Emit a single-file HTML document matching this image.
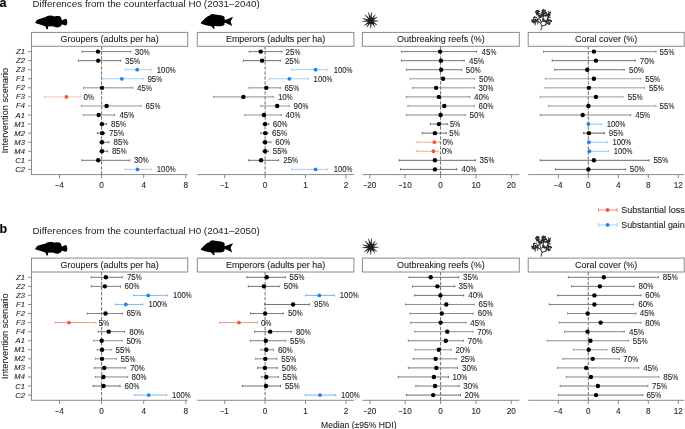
<!DOCTYPE html>
<html><head><meta charset="utf-8"><title>Figure</title>
<style>
html,body{margin:0;padding:0;background:#fff;}
body{width:685px;height:429px;overflow:hidden;}
svg{display:block;font-family:"Liberation Sans", sans-serif;will-change:transform;}
text{stroke:#262626;stroke-width:0.1px;}
.ns{stroke:none;}
</style></head><body>
<svg width="685" height="429" viewBox="0 0 685 429">
<rect width="685" height="429" fill="#fff"/>
<text x="-0.4" y="7.1" font-size="12.6" font-weight="bold" fill="#000" stroke="#000" stroke-width="0.35">a</text>
<text x="32.5" y="7.1" font-size="9.1" fill="#222" class="ns" textLength="227.3" lengthAdjust="spacingAndGlyphs">Differences from the counterfactual H0 (2031–2040)</text>
<g transform="translate(0,0)">
<path d="M34.9,22.5 L36.2,21.8 L36.2,20.5 L38.5,19.2 L41.8,18.2 L45.8,17.1 L46.8,16.2 L49.7,15.6 L52.7,15.8 L54,16.5 L56.3,16 L59.2,16.1 L60.9,17.1 L61.4,19.2 L62.2,20.4 L63.5,19.5 L65.8,18.7 L66.9,19.7 L67.4,22.2 L67,24.6 L65.8,25.5 L63.8,24.9 L61.9,24.2 L61.2,25.8 L59.9,26.8 L57.6,27.5 L55.3,27.3 L54,26.5 L49.7,26.2 L48.2,26.4 L47.9,28.7 L47.2,29.5 L46.1,28.4 L45.6,26.4 L43.1,25.4 L39.2,24.3 L36.6,23.5 L35.3,23 Z" fill="#000"/>
<path d="M200.6,22.9 L202.7,20.8 L205,18.5 L207.3,16.6 L209.7,15.6 L210.4,14.5 L212.9,14 L215,14.4 L218.7,14.9 L222,15.4 L224.1,16.4 L224.8,17.8 L224.3,19.2 L225.7,19.8 L229,18.4 L233.1,16.8 L230.6,21.5 L232.1,26.1 L229,24.5 L225.3,22.8 L224.3,23.4 L224.6,24.5 L223.4,25.5 L220.6,26.2 L217.8,26.2 L215,25.9 L214.1,26.6 L214.6,28.7 L213.6,28.9 L211.5,26.6 L210.6,25.9 L208.3,25.7 L205,25 L201.3,23.8 Z" fill="#000"/>
<path d="M371.15,18.63 L368.79,12.22 L368.21,12.38 L369.41,19.1 Z M371.86,18.88 L371.8,12.32 L371.2,12.28 L370.07,18.73 Z M372.71,19.73 L375.64,14.78 L375.16,14.42 L371.27,18.66 Z M372.98,20.56 L377.55,17.16 L377.25,16.64 L372.06,19.01 Z M372.78,21.75 L378.49,21.3 L378.51,20.7 L372.82,19.95 Z M371.92,22.69 L376.73,25.35 L377.07,24.85 L372.95,21.22 Z M371.17,22.96 L374.65,27.07 L375.15,26.73 L372.66,21.96 Z M369.9,22.8 L370.5,28.5 L371.1,28.5 L371.7,22.8 Z M368.98,22.02 L366.45,27.24 L366.95,27.56 L370.51,22.97 Z M368.65,21.24 L364.22,25.16 L364.58,25.64 L369.7,22.7 Z M368.73,20.07 L362.28,21.2 L362.32,21.8 L368.88,21.86 Z M369.12,19.39 L362.68,18.21 L362.52,18.79 L368.63,21.13 Z M370.07,18.73 L365.12,14.39 L364.68,14.81 L368.77,19.97 Z" fill="#2a2a2a"/>
<circle cx="370.8" cy="20.8" r="2.9" fill="#1e1e1e"/>
<path d="M541,29.9 L541.6,27.5 L542.1,26 L540.7,23.2 L538.5,21.5 L535,20.5 M540.7,23.2 L542.5,20.5 L543.3,16.5 L543.5,12.5 M541,22 L539,16.5 L537.4,13 M542.1,26 L545.8,24.9 L548.5,22 M545.8,24.9 L546.5,21 L548.5,16 L549,13.5 M535.5,21.5 L535.1,25 M538.5,21.5 L537.5,24" stroke="#1e1e1e" stroke-width="0.9" fill="none" stroke-linecap="round"/>
<g fill="#262626"><circle cx="533.74" cy="17.79" r="0.81"/><circle cx="532.23" cy="20.56" r="0.7"/><circle cx="532.15" cy="20.35" r="0.56"/><circle cx="534.4" cy="17.2" r="0.59"/><circle cx="534.35" cy="22.65" r="0.6"/><circle cx="533.14" cy="21.22" r="0.93"/><circle cx="535.26" cy="19.56" r="0.94"/><circle cx="533.54" cy="17.74" r="0.6"/><circle cx="533.65" cy="22.58" r="0.62"/><circle cx="535.29" cy="21.3" r="0.7"/><circle cx="535.09" cy="17.15" r="0.57"/><circle cx="533.04" cy="21.6" r="0.72"/><circle cx="533.68" cy="20.92" r="0.73"/><circle cx="533.6" cy="22.42" r="0.83"/><circle cx="533.26" cy="20.84" r="0.76"/><circle cx="537.05" cy="21.95" r="0.67"/><circle cx="534.31" cy="22.15" r="0.61"/><circle cx="534.73" cy="16.98" r="0.82"/><circle cx="536.39" cy="20.83" r="0.9"/><circle cx="533.68" cy="21.71" r="0.79"/><circle cx="535.28" cy="19.98" r="0.89"/><circle cx="537.47" cy="20.11" r="0.82"/><circle cx="532.16" cy="21.75" r="0.81"/><circle cx="533.51" cy="19.48" r="0.82"/><circle cx="531.94" cy="20.02" r="0.62"/><circle cx="536.41" cy="17.63" r="0.65"/><circle cx="537.03" cy="15.73" r="0.58"/><circle cx="537.34" cy="13.8" r="0.9"/><circle cx="539.26" cy="15.68" r="0.66"/><circle cx="537.16" cy="12.65" r="0.9"/><circle cx="535.92" cy="11.89" r="0.64"/><circle cx="537.52" cy="14.03" r="0.66"/><circle cx="536.92" cy="13.9" r="0.93"/><circle cx="538.59" cy="13.59" r="0.8"/><circle cx="538.52" cy="10.82" r="0.91"/><circle cx="539.06" cy="15.75" r="0.87"/><circle cx="537.04" cy="12.89" r="0.59"/><circle cx="538.3" cy="10.87" r="0.58"/><circle cx="536.09" cy="11.47" r="0.69"/><circle cx="536.89" cy="10.65" r="0.9"/><circle cx="538.19" cy="11.39" r="0.65"/><circle cx="536.81" cy="12.68" r="0.6"/><circle cx="537.42" cy="13.4" r="0.58"/><circle cx="535.53" cy="12.56" r="0.66"/><circle cx="539.31" cy="11.47" r="0.56"/><circle cx="539.95" cy="13.67" r="0.61"/><circle cx="537.82" cy="10.66" r="0.76"/><circle cx="538.62" cy="12.07" r="0.7"/><circle cx="542.17" cy="15.38" r="0.76"/><circle cx="544.98" cy="11.84" r="0.64"/><circle cx="545.32" cy="15.65" r="0.88"/><circle cx="544.8" cy="11.01" r="0.76"/><circle cx="543.04" cy="9.43" r="0.56"/><circle cx="542.69" cy="11.27" r="0.83"/><circle cx="545.8" cy="12.78" r="0.92"/><circle cx="543.08" cy="10.96" r="0.64"/><circle cx="542.3" cy="10.83" r="0.8"/><circle cx="543.61" cy="14.42" r="0.87"/><circle cx="541.79" cy="14.48" r="0.91"/><circle cx="545" cy="15.2" r="0.74"/><circle cx="542.22" cy="15.51" r="0.68"/><circle cx="543.22" cy="12.41" r="0.93"/><circle cx="544.73" cy="10.56" r="0.6"/><circle cx="545.11" cy="10.37" r="0.88"/><circle cx="543.01" cy="13.59" r="0.6"/><circle cx="544.39" cy="13.41" r="0.92"/><circle cx="543.4" cy="16.17" r="0.88"/><circle cx="542.37" cy="11.21" r="0.67"/><circle cx="542.51" cy="13.89" r="0.65"/><circle cx="543.33" cy="10.25" r="0.91"/><circle cx="543.03" cy="12.87" r="0.78"/><circle cx="545.56" cy="12.57" r="0.92"/><circle cx="543.71" cy="13.45" r="0.76"/><circle cx="541.49" cy="12.72" r="0.62"/><circle cx="546.96" cy="14.42" r="0.84"/><circle cx="548.88" cy="13.42" r="0.76"/><circle cx="548.88" cy="16.53" r="0.59"/><circle cx="548.9" cy="12.89" r="0.66"/><circle cx="549.96" cy="14.65" r="0.77"/><circle cx="549.9" cy="17.4" r="0.73"/><circle cx="549.16" cy="14.64" r="0.75"/><circle cx="549.56" cy="14.28" r="0.76"/><circle cx="548.49" cy="17.6" r="0.83"/><circle cx="547.4" cy="15" r="0.93"/><circle cx="550.3" cy="12.13" r="0.6"/><circle cx="548.31" cy="11.69" r="0.65"/><circle cx="546.47" cy="15.75" r="0.86"/><circle cx="549.68" cy="15.69" r="0.61"/><circle cx="548.09" cy="14.51" r="0.95"/><circle cx="550.26" cy="12.3" r="0.72"/><circle cx="548.68" cy="13.51" r="0.63"/><circle cx="547.69" cy="16.11" r="0.56"/><circle cx="548.87" cy="14.2" r="0.56"/><circle cx="547.76" cy="15.44" r="0.75"/><circle cx="546.62" cy="13.01" r="0.57"/><circle cx="549.99" cy="13.04" r="0.6"/><circle cx="548.9" cy="23.97" r="0.88"/><circle cx="548.04" cy="19.4" r="0.92"/><circle cx="549.67" cy="22.7" r="0.59"/><circle cx="547" cy="22.63" r="0.72"/><circle cx="550" cy="23.31" r="0.58"/><circle cx="551.19" cy="21.22" r="0.69"/><circle cx="549.58" cy="24.06" r="0.66"/><circle cx="547.37" cy="21.66" r="0.65"/><circle cx="548.32" cy="20.33" r="0.85"/><circle cx="548.21" cy="21.5" r="0.62"/><circle cx="550.51" cy="21.81" r="0.63"/><circle cx="549.17" cy="24.11" r="0.59"/><circle cx="550.96" cy="21.09" r="0.75"/><circle cx="551.04" cy="20.86" r="0.75"/><circle cx="548.48" cy="23.49" r="0.83"/><circle cx="550.01" cy="20.93" r="0.69"/><circle cx="547.07" cy="22.95" r="0.65"/><circle cx="550.19" cy="20.19" r="0.65"/><circle cx="548.22" cy="21.26" r="0.61"/><circle cx="549.02" cy="20.08" r="0.93"/><circle cx="546.1" cy="20.57" r="0.65"/><circle cx="543.97" cy="20.31" r="0.75"/><circle cx="543.32" cy="20.42" r="0.55"/><circle cx="543.55" cy="18.92" r="0.71"/><circle cx="543.7" cy="19.44" r="0.78"/><circle cx="544.51" cy="21.3" r="0.81"/><circle cx="545.18" cy="21.76" r="0.71"/><circle cx="543.14" cy="21.21" r="0.81"/><circle cx="545.81" cy="20.86" r="0.84"/><circle cx="541.24" cy="15.29" r="0.76"/><circle cx="540.31" cy="17.24" r="0.87"/><circle cx="541.28" cy="16.54" r="0.91"/><circle cx="540.85" cy="16.84" r="0.64"/><circle cx="539.88" cy="15.19" r="0.88"/><circle cx="540.48" cy="16.66" r="0.8"/><circle cx="540.84" cy="16.27" r="0.55"/><circle cx="538.2" cy="19.45" r="0.75"/><circle cx="537.67" cy="19.21" r="0.58"/><circle cx="538.07" cy="18.16" r="0.58"/><circle cx="537.13" cy="19.4" r="0.63"/></g>
</g>
<rect x="31.5" y="32.4" width="156.2" height="13.9" fill="none" stroke="#8a8a8a" stroke-width="1"/>
<text x="109.6" y="41.8" font-size="8.9" fill="#262626" text-anchor="middle" textLength="98.2" lengthAdjust="spacingAndGlyphs">Groupers (adults per ha)</text>
<line x1="31.5" y1="174.6" x2="187.7" y2="174.6" stroke="#8a8a8a" stroke-width="1"/>
<line x1="31.5" y1="46.3" x2="31.5" y2="175.1" stroke="#8a8a8a" stroke-width="1"/>
<line x1="28" y1="51.6" x2="31.5" y2="51.6" stroke="#8a8a8a" stroke-width="1"/>
<text x="24.9" y="54.1" font-size="7.6" font-style="italic" fill="#262626" text-anchor="end">Z1</text>
<line x1="28" y1="60.66" x2="31.5" y2="60.66" stroke="#8a8a8a" stroke-width="1"/>
<text x="24.9" y="63.16" font-size="7.6" font-style="italic" fill="#262626" text-anchor="end">Z2</text>
<line x1="28" y1="69.72" x2="31.5" y2="69.72" stroke="#8a8a8a" stroke-width="1"/>
<text x="24.9" y="72.22" font-size="7.6" font-style="italic" fill="#262626" text-anchor="end">Z3</text>
<line x1="28" y1="78.78" x2="31.5" y2="78.78" stroke="#8a8a8a" stroke-width="1"/>
<text x="24.9" y="81.28" font-size="7.6" font-style="italic" fill="#262626" text-anchor="end">F1</text>
<line x1="28" y1="87.84" x2="31.5" y2="87.84" stroke="#8a8a8a" stroke-width="1"/>
<text x="24.9" y="90.34" font-size="7.6" font-style="italic" fill="#262626" text-anchor="end">F2</text>
<line x1="28" y1="96.9" x2="31.5" y2="96.9" stroke="#8a8a8a" stroke-width="1"/>
<text x="24.9" y="99.4" font-size="7.6" font-style="italic" fill="#262626" text-anchor="end">F3</text>
<line x1="28" y1="105.96" x2="31.5" y2="105.96" stroke="#8a8a8a" stroke-width="1"/>
<text x="24.9" y="108.46" font-size="7.6" font-style="italic" fill="#262626" text-anchor="end">F4</text>
<line x1="28" y1="115.02" x2="31.5" y2="115.02" stroke="#8a8a8a" stroke-width="1"/>
<text x="24.9" y="117.52" font-size="7.6" font-style="italic" fill="#262626" text-anchor="end">A1</text>
<line x1="28" y1="124.08" x2="31.5" y2="124.08" stroke="#8a8a8a" stroke-width="1"/>
<text x="24.9" y="126.58" font-size="7.6" font-style="italic" fill="#262626" text-anchor="end">M1</text>
<line x1="28" y1="133.14" x2="31.5" y2="133.14" stroke="#8a8a8a" stroke-width="1"/>
<text x="24.9" y="135.64" font-size="7.6" font-style="italic" fill="#262626" text-anchor="end">M2</text>
<line x1="28" y1="142.2" x2="31.5" y2="142.2" stroke="#8a8a8a" stroke-width="1"/>
<text x="24.9" y="144.7" font-size="7.6" font-style="italic" fill="#262626" text-anchor="end">M3</text>
<line x1="28" y1="151.26" x2="31.5" y2="151.26" stroke="#8a8a8a" stroke-width="1"/>
<text x="24.9" y="153.76" font-size="7.6" font-style="italic" fill="#262626" text-anchor="end">M4</text>
<line x1="28" y1="160.32" x2="31.5" y2="160.32" stroke="#8a8a8a" stroke-width="1"/>
<text x="24.9" y="162.82" font-size="7.6" font-style="italic" fill="#262626" text-anchor="end">C1</text>
<line x1="28" y1="169.38" x2="31.5" y2="169.38" stroke="#8a8a8a" stroke-width="1"/>
<text x="24.9" y="171.88" font-size="7.6" font-style="italic" fill="#262626" text-anchor="end">C2</text>
<line x1="59.5" y1="174.6" x2="59.5" y2="178.3" stroke="#8a8a8a" stroke-width="1"/>
<text x="59.5" y="187.8" font-size="8.2" fill="#262626" text-anchor="middle"><tspan textLength="3.9" lengthAdjust="spacingAndGlyphs">−</tspan>4</text>
<line x1="101.6" y1="174.6" x2="101.6" y2="178.3" stroke="#8a8a8a" stroke-width="1"/>
<text x="101.6" y="187.8" font-size="8.2" fill="#262626" text-anchor="middle">0</text>
<line x1="143.7" y1="174.6" x2="143.7" y2="178.3" stroke="#8a8a8a" stroke-width="1"/>
<text x="143.7" y="187.8" font-size="8.2" fill="#262626" text-anchor="middle">4</text>
<line x1="185.8" y1="174.6" x2="185.8" y2="178.3" stroke="#8a8a8a" stroke-width="1"/>
<text x="185.8" y="187.8" font-size="8.2" fill="#262626" text-anchor="middle">8</text>
<line x1="101.6" y1="46.3" x2="101.6" y2="174.6" stroke="#6e6e6e" stroke-width="1" stroke-dasharray="3.4 1.6"/>
<path d="M81.9,51.6H130.9M81.9,50.5V52.7M130.9,50.5V52.7" stroke="#7b7b7b" stroke-width="1.0" fill="none"/>
<circle cx="98" cy="51.6" r="2.2" fill="#000"/>
<text x="134.8" y="54.55" font-size="8.3" fill="#262626"><tspan textLength="8.9" lengthAdjust="spacingAndGlyphs">30</tspan><tspan textLength="5.9" lengthAdjust="spacingAndGlyphs">%</tspan></text>
<path d="M78.4,60.66H120.7M78.4,59.56V61.76M120.7,59.56V61.76" stroke="#737373" stroke-width="1.0" fill="none"/>
<circle cx="98.2" cy="60.66" r="2.2" fill="#000"/>
<text x="125" y="63.61" font-size="8.3" fill="#262626"><tspan textLength="8.9" lengthAdjust="spacingAndGlyphs">35</tspan><tspan textLength="5.9" lengthAdjust="spacingAndGlyphs">%</tspan></text>
<path d="M125.3,69.72H151.7M125.3,68.62V70.82M151.7,68.62V70.82" stroke="#a6cff6" stroke-width="1.0" fill="none"/>
<circle cx="137.2" cy="69.72" r="1.9" fill="#1f82ea"/>
<text x="156.8" y="72.67" font-size="8.3" fill="#262626"><tspan textLength="12.9" lengthAdjust="spacingAndGlyphs">100</tspan><tspan textLength="5.9" lengthAdjust="spacingAndGlyphs">%</tspan></text>
<path d="M103.1,78.78H143.8M103.1,77.68V79.88M143.8,77.68V79.88" stroke="#a6cff6" stroke-width="1.0" fill="none"/>
<circle cx="121.8" cy="78.78" r="1.9" fill="#1f82ea"/>
<text x="147.4" y="81.73" font-size="8.3" fill="#262626"><tspan textLength="8.9" lengthAdjust="spacingAndGlyphs">95</tspan><tspan textLength="5.9" lengthAdjust="spacingAndGlyphs">%</tspan></text>
<path d="M83.7,87.84H132.8M83.7,86.74V88.94M132.8,86.74V88.94" stroke="#8c8c8c" stroke-width="1.0" fill="none"/>
<circle cx="102" cy="87.84" r="2.2" fill="#000"/>
<text x="137.1" y="90.79" font-size="8.3" fill="#262626"><tspan textLength="8.9" lengthAdjust="spacingAndGlyphs">45</tspan><tspan textLength="5.9" lengthAdjust="spacingAndGlyphs">%</tspan></text>
<path d="M44.5,96.9H80.2M44.5,95.8V98M80.2,95.8V98" stroke="#fac3b6" stroke-width="1.0" fill="none"/>
<circle cx="66.4" cy="96.9" r="1.9" fill="#f2553b"/>
<text x="83.6" y="99.85" font-size="8.3" fill="#262626"><tspan textLength="4.45" lengthAdjust="spacingAndGlyphs">0</tspan><tspan textLength="5.9" lengthAdjust="spacingAndGlyphs">%</tspan></text>
<path d="M81.4,105.96H141M81.4,104.86V107.06M141,104.86V107.06" stroke="#939393" stroke-width="1.0" fill="none"/>
<circle cx="106.6" cy="105.96" r="2.2" fill="#000"/>
<text x="145.6" y="108.91" font-size="8.3" fill="#262626"><tspan textLength="8.9" lengthAdjust="spacingAndGlyphs">65</tspan><tspan textLength="5.9" lengthAdjust="spacingAndGlyphs">%</tspan></text>
<path d="M83.3,115.02H114.6M83.3,113.92V116.12M114.6,113.92V116.12" stroke="#8c8c8c" stroke-width="1.0" fill="none"/>
<circle cx="98.7" cy="115.02" r="2.2" fill="#000"/>
<text x="119.4" y="117.97" font-size="8.3" fill="#262626"><tspan textLength="8.9" lengthAdjust="spacingAndGlyphs">45</tspan><tspan textLength="5.9" lengthAdjust="spacingAndGlyphs">%</tspan></text>
<path d="M100.1,124.08H106.4M100.1,122.98V125.18M106.4,122.98V125.18" stroke="#6d6d6d" stroke-width="1.0" fill="none"/>
<circle cx="102" cy="124.08" r="2.2" fill="#000"/>
<text x="111" y="127.03" font-size="8.3" fill="#262626"><tspan textLength="8.9" lengthAdjust="spacingAndGlyphs">85</tspan><tspan textLength="5.9" lengthAdjust="spacingAndGlyphs">%</tspan></text>
<path d="M97.3,133.14H104.8M97.3,132.04V134.24M104.8,132.04V134.24" stroke="#6d6d6d" stroke-width="1.0" fill="none"/>
<circle cx="102.2" cy="133.14" r="2.2" fill="#000"/>
<text x="109.1" y="136.09" font-size="8.3" fill="#262626"><tspan textLength="8.9" lengthAdjust="spacingAndGlyphs">75</tspan><tspan textLength="5.9" lengthAdjust="spacingAndGlyphs">%</tspan></text>
<path d="M100,142.2H109M100,141.1V143.3M109,141.1V143.3" stroke="#757575" stroke-width="1.0" fill="none"/>
<circle cx="102" cy="142.2" r="2.2" fill="#000"/>
<text x="113.5" y="145.15" font-size="8.3" fill="#262626"><tspan textLength="8.9" lengthAdjust="spacingAndGlyphs">85</tspan><tspan textLength="5.9" lengthAdjust="spacingAndGlyphs">%</tspan></text>
<path d="M100,151.26H107.6M100,150.16V152.36M107.6,150.16V152.36" stroke="#757575" stroke-width="1.0" fill="none"/>
<circle cx="102" cy="151.26" r="2.2" fill="#000"/>
<text x="111.9" y="154.21" font-size="8.3" fill="#262626"><tspan textLength="8.9" lengthAdjust="spacingAndGlyphs">85</tspan><tspan textLength="5.9" lengthAdjust="spacingAndGlyphs">%</tspan></text>
<path d="M81.9,160.32H129.8M81.9,159.22V161.42M129.8,159.22V161.42" stroke="#737373" stroke-width="1.0" fill="none"/>
<circle cx="98.2" cy="160.32" r="2.2" fill="#000"/>
<text x="133.9" y="163.27" font-size="8.3" fill="#262626"><tspan textLength="8.9" lengthAdjust="spacingAndGlyphs">30</tspan><tspan textLength="5.9" lengthAdjust="spacingAndGlyphs">%</tspan></text>
<path d="M125.3,169.38H151.7M125.3,168.28V170.48M151.7,168.28V170.48" stroke="#a6cff6" stroke-width="1.0" fill="none"/>
<circle cx="137.5" cy="169.38" r="1.9" fill="#1f82ea"/>
<text x="156.8" y="172.33" font-size="8.3" fill="#262626"><tspan textLength="12.9" lengthAdjust="spacingAndGlyphs">100</tspan><tspan textLength="5.9" lengthAdjust="spacingAndGlyphs">%</tspan></text>
<rect x="197.3" y="32.4" width="156.6" height="13.9" fill="none" stroke="#8a8a8a" stroke-width="1"/>
<text x="275.6" y="41.8" font-size="8.9" fill="#262626" text-anchor="middle" textLength="99.4" lengthAdjust="spacingAndGlyphs">Emperors (adults per ha)</text>
<line x1="197.3" y1="174.6" x2="353.9" y2="174.6" stroke="#8a8a8a" stroke-width="1"/>
<line x1="224.7" y1="174.6" x2="224.7" y2="178.3" stroke="#8a8a8a" stroke-width="1"/>
<text x="224.7" y="187.8" font-size="8.2" fill="#262626" text-anchor="middle"><tspan textLength="3.9" lengthAdjust="spacingAndGlyphs">−</tspan>1</text>
<line x1="265.1" y1="174.6" x2="265.1" y2="178.3" stroke="#8a8a8a" stroke-width="1"/>
<text x="265.1" y="187.8" font-size="8.2" fill="#262626" text-anchor="middle">0</text>
<line x1="305.5" y1="174.6" x2="305.5" y2="178.3" stroke="#8a8a8a" stroke-width="1"/>
<text x="305.5" y="187.8" font-size="8.2" fill="#262626" text-anchor="middle">1</text>
<line x1="346" y1="174.6" x2="346" y2="178.3" stroke="#8a8a8a" stroke-width="1"/>
<text x="346" y="187.8" font-size="8.2" fill="#262626" text-anchor="middle">2</text>
<line x1="265.1" y1="46.3" x2="265.1" y2="174.6" stroke="#6e6e6e" stroke-width="1" stroke-dasharray="3.4 1.6"/>
<path d="M249.2,51.6H281.9M249.2,50.5V52.7M281.9,50.5V52.7" stroke="#7b7b7b" stroke-width="1.0" fill="none"/>
<circle cx="260.7" cy="51.6" r="2.2" fill="#000"/>
<text x="285.6" y="54.55" font-size="8.3" fill="#262626"><tspan textLength="8.9" lengthAdjust="spacingAndGlyphs">25</tspan><tspan textLength="5.9" lengthAdjust="spacingAndGlyphs">%</tspan></text>
<path d="M243.4,60.66H280.3M243.4,59.56V61.76M280.3,59.56V61.76" stroke="#6b6b6b" stroke-width="1.0" fill="none"/>
<circle cx="262.1" cy="60.66" r="2.2" fill="#000"/>
<text x="284.9" y="63.61" font-size="8.3" fill="#262626"><tspan textLength="8.9" lengthAdjust="spacingAndGlyphs">25</tspan><tspan textLength="5.9" lengthAdjust="spacingAndGlyphs">%</tspan></text>
<path d="M291.5,69.72H327.7M291.5,68.62V70.82M327.7,68.62V70.82" stroke="#a6cff6" stroke-width="1.0" fill="none"/>
<circle cx="315.6" cy="69.72" r="1.9" fill="#1f82ea"/>
<text x="333.7" y="72.67" font-size="8.3" fill="#262626"><tspan textLength="12.9" lengthAdjust="spacingAndGlyphs">100</tspan><tspan textLength="5.9" lengthAdjust="spacingAndGlyphs">%</tspan></text>
<path d="M269.3,78.78H308.3M269.3,77.68V79.88M308.3,77.68V79.88" stroke="#a6cff6" stroke-width="1.0" fill="none"/>
<circle cx="289.4" cy="78.78" r="1.9" fill="#1f82ea"/>
<text x="313.6" y="81.73" font-size="8.3" fill="#262626"><tspan textLength="12.9" lengthAdjust="spacingAndGlyphs">100</tspan><tspan textLength="5.9" lengthAdjust="spacingAndGlyphs">%</tspan></text>
<path d="M249.2,87.84H280.3M249.2,86.74V88.94M280.3,86.74V88.94" stroke="#8c8c8c" stroke-width="1.0" fill="none"/>
<circle cx="266.3" cy="87.84" r="2.2" fill="#000"/>
<text x="284.4" y="90.79" font-size="8.3" fill="#262626"><tspan textLength="8.9" lengthAdjust="spacingAndGlyphs">65</tspan><tspan textLength="5.9" lengthAdjust="spacingAndGlyphs">%</tspan></text>
<path d="M213.7,96.9H273.3M213.7,95.8V98M273.3,95.8V98" stroke="#8c8c8c" stroke-width="1.0" fill="none"/>
<circle cx="243.4" cy="96.9" r="2.2" fill="#000"/>
<text x="277.9" y="99.85" font-size="8.3" fill="#262626"><tspan textLength="8.9" lengthAdjust="spacingAndGlyphs">10</tspan><tspan textLength="5.9" lengthAdjust="spacingAndGlyphs">%</tspan></text>
<path d="M260.9,105.96H289.2M260.9,104.86V107.06M289.2,104.86V107.06" stroke="#969696" stroke-width="1.0" fill="none"/>
<circle cx="277.2" cy="105.96" r="2.2" fill="#000"/>
<text x="293.5" y="108.91" font-size="8.3" fill="#262626"><tspan textLength="8.9" lengthAdjust="spacingAndGlyphs">90</tspan><tspan textLength="5.9" lengthAdjust="spacingAndGlyphs">%</tspan></text>
<path d="M244.8,115.02H281.4M244.8,113.92V116.12M281.4,113.92V116.12" stroke="#939393" stroke-width="1.0" fill="none"/>
<circle cx="263.9" cy="115.02" r="2.2" fill="#000"/>
<text x="285.6" y="117.97" font-size="8.3" fill="#262626"><tspan textLength="8.9" lengthAdjust="spacingAndGlyphs">40</tspan><tspan textLength="5.9" lengthAdjust="spacingAndGlyphs">%</tspan></text>
<path d="M263,124.08H268.8M263,122.98V125.18M268.8,122.98V125.18" stroke="#6d6d6d" stroke-width="1.0" fill="none"/>
<circle cx="265.1" cy="124.08" r="2.2" fill="#000"/>
<text x="272.7" y="127.03" font-size="8.3" fill="#262626"><tspan textLength="8.9" lengthAdjust="spacingAndGlyphs">60</tspan><tspan textLength="5.9" lengthAdjust="spacingAndGlyphs">%</tspan></text>
<path d="M260.9,133.14H267.7M260.9,132.04V134.24M267.7,132.04V134.24" stroke="#6d6d6d" stroke-width="1.0" fill="none"/>
<circle cx="265.3" cy="133.14" r="2.2" fill="#000"/>
<text x="272" y="136.09" font-size="8.3" fill="#262626"><tspan textLength="8.9" lengthAdjust="spacingAndGlyphs">65</tspan><tspan textLength="5.9" lengthAdjust="spacingAndGlyphs">%</tspan></text>
<path d="M263,142.2H270.9M263,141.1V143.3M270.9,141.1V143.3" stroke="#757575" stroke-width="1.0" fill="none"/>
<circle cx="265.1" cy="142.2" r="2.2" fill="#000"/>
<text x="275.3" y="145.15" font-size="8.3" fill="#262626"><tspan textLength="8.9" lengthAdjust="spacingAndGlyphs">60</tspan><tspan textLength="5.9" lengthAdjust="spacingAndGlyphs">%</tspan></text>
<path d="M263,151.26H268.6M263,150.16V152.36M268.6,150.16V152.36" stroke="#757575" stroke-width="1.0" fill="none"/>
<circle cx="265.1" cy="151.26" r="2.2" fill="#000"/>
<text x="272.7" y="154.21" font-size="8.3" fill="#262626"><tspan textLength="8.9" lengthAdjust="spacingAndGlyphs">55</tspan><tspan textLength="5.9" lengthAdjust="spacingAndGlyphs">%</tspan></text>
<path d="M248.7,160.32H278.6M248.7,159.22V161.42M278.6,159.22V161.42" stroke="#737373" stroke-width="1.0" fill="none"/>
<circle cx="261.1" cy="160.32" r="2.2" fill="#000"/>
<text x="283.2" y="163.27" font-size="8.3" fill="#262626"><tspan textLength="8.9" lengthAdjust="spacingAndGlyphs">25</tspan><tspan textLength="5.9" lengthAdjust="spacingAndGlyphs">%</tspan></text>
<path d="M291.5,169.38H327.7M291.5,168.28V170.48M327.7,168.28V170.48" stroke="#a6cff6" stroke-width="1.0" fill="none"/>
<circle cx="315.6" cy="169.38" r="1.9" fill="#1f82ea"/>
<text x="333.7" y="172.33" font-size="8.3" fill="#262626"><tspan textLength="12.9" lengthAdjust="spacingAndGlyphs">100</tspan><tspan textLength="5.9" lengthAdjust="spacingAndGlyphs">%</tspan></text>
<rect x="362.4" y="32.4" width="156.9" height="13.9" fill="none" stroke="#8a8a8a" stroke-width="1"/>
<text x="440.85" y="41.8" font-size="8.9" fill="#262626" text-anchor="middle" textLength="87.6" lengthAdjust="spacingAndGlyphs">Outbreaking reefs (%)</text>
<line x1="362.4" y1="174.6" x2="519.3" y2="174.6" stroke="#8a8a8a" stroke-width="1"/>
<line x1="369.9" y1="174.6" x2="369.9" y2="178.3" stroke="#8a8a8a" stroke-width="1"/>
<text x="369.9" y="187.8" font-size="8.2" fill="#262626" text-anchor="middle"><tspan textLength="3.9" lengthAdjust="spacingAndGlyphs">−</tspan>20</text>
<line x1="405.2" y1="174.6" x2="405.2" y2="178.3" stroke="#8a8a8a" stroke-width="1"/>
<text x="405.2" y="187.8" font-size="8.2" fill="#262626" text-anchor="middle"><tspan textLength="3.9" lengthAdjust="spacingAndGlyphs">−</tspan>10</text>
<line x1="440.6" y1="174.6" x2="440.6" y2="178.3" stroke="#8a8a8a" stroke-width="1"/>
<text x="440.6" y="187.8" font-size="8.2" fill="#262626" text-anchor="middle">0</text>
<line x1="476" y1="174.6" x2="476" y2="178.3" stroke="#8a8a8a" stroke-width="1"/>
<text x="476" y="187.8" font-size="8.2" fill="#262626" text-anchor="middle">10</text>
<line x1="511.3" y1="174.6" x2="511.3" y2="178.3" stroke="#8a8a8a" stroke-width="1"/>
<text x="511.3" y="187.8" font-size="8.2" fill="#262626" text-anchor="middle">20</text>
<line x1="440.6" y1="46.3" x2="440.6" y2="174.6" stroke="#6e6e6e" stroke-width="1" stroke-dasharray="3.4 1.6"/>
<path d="M401.6,51.6H476.6M401.6,50.5V52.7M476.6,50.5V52.7" stroke="#7b7b7b" stroke-width="1.0" fill="none"/>
<circle cx="440.1" cy="51.6" r="2.2" fill="#000"/>
<text x="481.5" y="54.55" font-size="8.3" fill="#262626"><tspan textLength="8.9" lengthAdjust="spacingAndGlyphs">45</tspan><tspan textLength="5.9" lengthAdjust="spacingAndGlyphs">%</tspan></text>
<path d="M401.4,60.66H464.2M401.4,59.56V61.76M464.2,59.56V61.76" stroke="#737373" stroke-width="1.0" fill="none"/>
<circle cx="440.9" cy="60.66" r="2.2" fill="#000"/>
<text x="469" y="63.61" font-size="8.3" fill="#262626"><tspan textLength="8.9" lengthAdjust="spacingAndGlyphs">45</tspan><tspan textLength="5.9" lengthAdjust="spacingAndGlyphs">%</tspan></text>
<path d="M406.4,69.72H461.7M406.4,68.62V70.82M461.7,68.62V70.82" stroke="#757575" stroke-width="1.0" fill="none"/>
<circle cx="441.1" cy="69.72" r="2.2" fill="#000"/>
<text x="465.8" y="72.67" font-size="8.3" fill="#262626"><tspan textLength="8.9" lengthAdjust="spacingAndGlyphs">50</tspan><tspan textLength="5.9" lengthAdjust="spacingAndGlyphs">%</tspan></text>
<path d="M410.1,78.78H474.6M410.1,77.68V79.88M474.6,77.68V79.88" stroke="#9c9c9c" stroke-width="1.0" fill="none"/>
<circle cx="443.1" cy="78.78" r="2.2" fill="#000"/>
<text x="479" y="81.73" font-size="8.3" fill="#262626"><tspan textLength="8.9" lengthAdjust="spacingAndGlyphs">50</tspan><tspan textLength="5.9" lengthAdjust="spacingAndGlyphs">%</tspan></text>
<path d="M412.6,87.84H474.4M412.6,86.74V88.94M474.4,86.74V88.94" stroke="#939393" stroke-width="1.0" fill="none"/>
<circle cx="436.1" cy="87.84" r="2.2" fill="#000"/>
<text x="478.5" y="90.79" font-size="8.3" fill="#262626"><tspan textLength="8.9" lengthAdjust="spacingAndGlyphs">30</tspan><tspan textLength="5.9" lengthAdjust="spacingAndGlyphs">%</tspan></text>
<path d="M406.4,96.9H469.6M406.4,95.8V98M469.6,95.8V98" stroke="#8c8c8c" stroke-width="1.0" fill="none"/>
<circle cx="438.9" cy="96.9" r="2.2" fill="#000"/>
<text x="474" y="99.85" font-size="8.3" fill="#262626"><tspan textLength="8.9" lengthAdjust="spacingAndGlyphs">40</tspan><tspan textLength="5.9" lengthAdjust="spacingAndGlyphs">%</tspan></text>
<path d="M407.9,105.96H474.1M407.9,104.86V107.06M474.1,104.86V107.06" stroke="#939393" stroke-width="1.0" fill="none"/>
<circle cx="444.3" cy="105.96" r="2.2" fill="#000"/>
<text x="478.5" y="108.91" font-size="8.3" fill="#262626"><tspan textLength="8.9" lengthAdjust="spacingAndGlyphs">60</tspan><tspan textLength="5.9" lengthAdjust="spacingAndGlyphs">%</tspan></text>
<path d="M406.4,115.02H465.4M406.4,113.92V116.12M465.4,113.92V116.12" stroke="#8c8c8c" stroke-width="1.0" fill="none"/>
<circle cx="440.6" cy="115.02" r="2.2" fill="#000"/>
<text x="469.5" y="117.97" font-size="8.3" fill="#262626"><tspan textLength="8.9" lengthAdjust="spacingAndGlyphs">50</tspan><tspan textLength="5.9" lengthAdjust="spacingAndGlyphs">%</tspan></text>
<path d="M430.4,124.08H447.3M430.4,122.98V125.18M447.3,122.98V125.18" stroke="#757575" stroke-width="1.0" fill="none"/>
<circle cx="438.9" cy="124.08" r="2.2" fill="#000"/>
<text x="449.9" y="127.03" font-size="8.3" fill="#262626"><tspan textLength="4.45" lengthAdjust="spacingAndGlyphs">5</tspan><tspan textLength="5.9" lengthAdjust="spacingAndGlyphs">%</tspan></text>
<path d="M422.2,133.14H446.3M422.2,132.04V134.24M446.3,132.04V134.24" stroke="#6d6d6d" stroke-width="1.0" fill="none"/>
<circle cx="434.9" cy="133.14" r="2.2" fill="#000"/>
<text x="449.2" y="136.09" font-size="8.3" fill="#262626"><tspan textLength="4.45" lengthAdjust="spacingAndGlyphs">5</tspan><tspan textLength="5.9" lengthAdjust="spacingAndGlyphs">%</tspan></text>
<path d="M417,142.2H439.4M417,141.1V143.3M439.4,141.1V143.3" stroke="#f6a898" stroke-width="1.0" fill="none"/>
<circle cx="434.4" cy="142.2" r="1.9" fill="#f2553b"/>
<text x="442.5" y="145.15" font-size="8.3" fill="#262626"><tspan textLength="4.45" lengthAdjust="spacingAndGlyphs">0</tspan><tspan textLength="5.9" lengthAdjust="spacingAndGlyphs">%</tspan></text>
<path d="M416.3,151.26H438.1M416.3,150.16V152.36M438.1,150.16V152.36" stroke="#f6a898" stroke-width="1.0" fill="none"/>
<circle cx="433.4" cy="151.26" r="1.9" fill="#f2553b"/>
<text x="441.7" y="154.21" font-size="8.3" fill="#262626"><tspan textLength="4.45" lengthAdjust="spacingAndGlyphs">0</tspan><tspan textLength="5.9" lengthAdjust="spacingAndGlyphs">%</tspan></text>
<path d="M399.2,160.32H475.3M399.2,159.22V161.42M475.3,159.22V161.42" stroke="#6b6b6b" stroke-width="1.0" fill="none"/>
<circle cx="434.9" cy="160.32" r="2.2" fill="#000"/>
<text x="479.5" y="163.27" font-size="8.3" fill="#262626"><tspan textLength="8.9" lengthAdjust="spacingAndGlyphs">35</tspan><tspan textLength="5.9" lengthAdjust="spacingAndGlyphs">%</tspan></text>
<path d="M400.4,169.38H456.7M400.4,168.28V170.48M456.7,168.28V170.48" stroke="#6b6b6b" stroke-width="1.0" fill="none"/>
<circle cx="434.9" cy="169.38" r="2.2" fill="#000"/>
<text x="461.6" y="172.33" font-size="8.3" fill="#262626"><tspan textLength="8.9" lengthAdjust="spacingAndGlyphs">40</tspan><tspan textLength="5.9" lengthAdjust="spacingAndGlyphs">%</tspan></text>
<rect x="528.2" y="32.4" width="156" height="13.9" fill="none" stroke="#8a8a8a" stroke-width="1"/>
<text x="606.2" y="41.8" font-size="8.9" fill="#262626" text-anchor="middle" textLength="62.3" lengthAdjust="spacingAndGlyphs">Coral cover (%)</text>
<line x1="528.2" y1="174.6" x2="684.2" y2="174.6" stroke="#8a8a8a" stroke-width="1"/>
<line x1="558.3" y1="174.6" x2="558.3" y2="178.3" stroke="#8a8a8a" stroke-width="1"/>
<text x="558.3" y="187.8" font-size="8.2" fill="#262626" text-anchor="middle"><tspan textLength="3.9" lengthAdjust="spacingAndGlyphs">−</tspan>4</text>
<line x1="588.3" y1="174.6" x2="588.3" y2="178.3" stroke="#8a8a8a" stroke-width="1"/>
<text x="588.3" y="187.8" font-size="8.2" fill="#262626" text-anchor="middle">0</text>
<line x1="618.3" y1="174.6" x2="618.3" y2="178.3" stroke="#8a8a8a" stroke-width="1"/>
<text x="618.3" y="187.8" font-size="8.2" fill="#262626" text-anchor="middle">4</text>
<line x1="648.3" y1="174.6" x2="648.3" y2="178.3" stroke="#8a8a8a" stroke-width="1"/>
<text x="648.3" y="187.8" font-size="8.2" fill="#262626" text-anchor="middle">8</text>
<line x1="678.3" y1="174.6" x2="678.3" y2="178.3" stroke="#8a8a8a" stroke-width="1"/>
<text x="678.3" y="187.8" font-size="8.2" fill="#262626" text-anchor="middle">12</text>
<line x1="588.3" y1="46.3" x2="588.3" y2="174.6" stroke="#6e6e6e" stroke-width="1" stroke-dasharray="3.4 1.6"/>
<path d="M543.5,51.6H656M543.5,50.5V52.7M656,50.5V52.7" stroke="#8a8a8a" stroke-width="1.0" fill="none"/>
<circle cx="593.9" cy="51.6" r="2.2" fill="#000"/>
<text x="659.6" y="54.55" font-size="8.3" fill="#262626"><tspan textLength="8.9" lengthAdjust="spacingAndGlyphs">55</tspan><tspan textLength="5.9" lengthAdjust="spacingAndGlyphs">%</tspan></text>
<path d="M552.2,60.66H635.3M552.2,59.56V61.76M635.3,59.56V61.76" stroke="#737373" stroke-width="1.0" fill="none"/>
<circle cx="595.9" cy="60.66" r="2.2" fill="#000"/>
<text x="639.7" y="63.61" font-size="8.3" fill="#262626"><tspan textLength="8.9" lengthAdjust="spacingAndGlyphs">70</tspan><tspan textLength="5.9" lengthAdjust="spacingAndGlyphs">%</tspan></text>
<path d="M554.7,69.72H624.2M554.7,68.62V70.82M624.2,68.62V70.82" stroke="#757575" stroke-width="1.0" fill="none"/>
<circle cx="587.2" cy="69.72" r="2.2" fill="#000"/>
<text x="629" y="72.67" font-size="8.3" fill="#262626"><tspan textLength="8.9" lengthAdjust="spacingAndGlyphs">50</tspan><tspan textLength="5.9" lengthAdjust="spacingAndGlyphs">%</tspan></text>
<path d="M545.3,78.78H640.8M545.3,77.68V79.88M640.8,77.68V79.88" stroke="#a3a3a3" stroke-width="1.0" fill="none"/>
<circle cx="593.9" cy="78.78" r="2.2" fill="#000"/>
<text x="645.2" y="81.73" font-size="8.3" fill="#262626"><tspan textLength="8.9" lengthAdjust="spacingAndGlyphs">55</tspan><tspan textLength="5.9" lengthAdjust="spacingAndGlyphs">%</tspan></text>
<path d="M545.3,87.84H644.5M545.3,86.74V88.94M644.5,86.74V88.94" stroke="#9b9b9b" stroke-width="1.0" fill="none"/>
<circle cx="588.9" cy="87.84" r="2.2" fill="#000"/>
<text x="648.9" y="90.79" font-size="8.3" fill="#262626"><tspan textLength="8.9" lengthAdjust="spacingAndGlyphs">55</tspan><tspan textLength="5.9" lengthAdjust="spacingAndGlyphs">%</tspan></text>
<path d="M540.3,96.9H622.9M540.3,95.8V98M622.9,95.8V98" stroke="#9b9b9b" stroke-width="1.0" fill="none"/>
<circle cx="595.9" cy="96.9" r="2.2" fill="#000"/>
<text x="627.8" y="99.85" font-size="8.3" fill="#262626"><tspan textLength="8.9" lengthAdjust="spacingAndGlyphs">55</tspan><tspan textLength="5.9" lengthAdjust="spacingAndGlyphs">%</tspan></text>
<path d="M548.5,105.96H656M548.5,104.86V107.06M656,104.86V107.06" stroke="#9b9b9b" stroke-width="1.0" fill="none"/>
<circle cx="588.4" cy="105.96" r="2.2" fill="#000"/>
<text x="659.6" y="108.91" font-size="8.3" fill="#262626"><tspan textLength="8.9" lengthAdjust="spacingAndGlyphs">55</tspan><tspan textLength="5.9" lengthAdjust="spacingAndGlyphs">%</tspan></text>
<path d="M540.3,115.02H630.6M540.3,113.92V116.12M630.6,113.92V116.12" stroke="#848484" stroke-width="1.0" fill="none"/>
<circle cx="582.7" cy="115.02" r="2.2" fill="#000"/>
<text x="635.2" y="117.97" font-size="8.3" fill="#262626"><tspan textLength="8.9" lengthAdjust="spacingAndGlyphs">45</tspan><tspan textLength="5.9" lengthAdjust="spacingAndGlyphs">%</tspan></text>
<path d="M588.4,124.08H601.8M588.4,122.98V125.18M601.8,122.98V125.18" stroke="#92c5f4" stroke-width="1.0" fill="none"/>
<circle cx="588.4" cy="124.08" r="1.9" fill="#1f82ea"/>
<text x="606.7" y="127.03" font-size="8.3" fill="#262626"><tspan textLength="12.9" lengthAdjust="spacingAndGlyphs">100</tspan><tspan textLength="5.9" lengthAdjust="spacingAndGlyphs">%</tspan></text>
<path d="M583.7,133.14H604.3M583.7,132.04V134.24M604.3,132.04V134.24" stroke="#5e5e5e" stroke-width="1.0" fill="none"/>
<circle cx="588.9" cy="133.14" r="2.2" fill="#000"/>
<text x="608.7" y="136.09" font-size="8.3" fill="#262626"><tspan textLength="8.9" lengthAdjust="spacingAndGlyphs">95</tspan><tspan textLength="5.9" lengthAdjust="spacingAndGlyphs">%</tspan></text>
<path d="M588.9,142.2H607.3M588.9,141.1V143.3M607.3,141.1V143.3" stroke="#92c5f4" stroke-width="1.0" fill="none"/>
<circle cx="588.9" cy="142.2" r="1.9" fill="#1f82ea"/>
<text x="612.4" y="145.15" font-size="8.3" fill="#262626"><tspan textLength="12.9" lengthAdjust="spacingAndGlyphs">100</tspan><tspan textLength="5.9" lengthAdjust="spacingAndGlyphs">%</tspan></text>
<path d="M589,151.26H608.5M589,150.16V152.36M608.5,150.16V152.36" stroke="#92c5f4" stroke-width="1.0" fill="none"/>
<circle cx="589.4" cy="151.26" r="1.9" fill="#1f82ea"/>
<text x="613.7" y="154.21" font-size="8.3" fill="#262626"><tspan textLength="12.9" lengthAdjust="spacingAndGlyphs">100</tspan><tspan textLength="5.9" lengthAdjust="spacingAndGlyphs">%</tspan></text>
<path d="M540.3,160.32H649M540.3,159.22V161.42M649,159.22V161.42" stroke="#6b6b6b" stroke-width="1.0" fill="none"/>
<circle cx="593.9" cy="160.32" r="2.2" fill="#000"/>
<text x="653.4" y="163.27" font-size="8.3" fill="#262626"><tspan textLength="8.9" lengthAdjust="spacingAndGlyphs">55</tspan><tspan textLength="5.9" lengthAdjust="spacingAndGlyphs">%</tspan></text>
<path d="M555.4,169.38H625.7M555.4,168.28V170.48M625.7,168.28V170.48" stroke="#6b6b6b" stroke-width="1.0" fill="none"/>
<circle cx="588.4" cy="169.38" r="2.2" fill="#000"/>
<text x="629.8" y="172.33" font-size="8.3" fill="#262626"><tspan textLength="8.9" lengthAdjust="spacingAndGlyphs">50</tspan><tspan textLength="5.9" lengthAdjust="spacingAndGlyphs">%</tspan></text>
<text transform="translate(8.3,110.5) rotate(-90)" font-size="8.8" fill="#262626" text-anchor="middle" textLength="85.4" lengthAdjust="spacingAndGlyphs">Intervention scenario</text>
<text x="-0.4" y="233.4" font-size="12.6" font-weight="bold" fill="#000" stroke="#000" stroke-width="0.35">b</text>
<text x="32.5" y="233.6" font-size="9.1" fill="#222" class="ns" textLength="227.3" lengthAdjust="spacingAndGlyphs">Differences from the counterfactual H0 (2041–2050)</text>
<g transform="translate(0,226.3)">
<path d="M34.9,22.5 L36.2,21.8 L36.2,20.5 L38.5,19.2 L41.8,18.2 L45.8,17.1 L46.8,16.2 L49.7,15.6 L52.7,15.8 L54,16.5 L56.3,16 L59.2,16.1 L60.9,17.1 L61.4,19.2 L62.2,20.4 L63.5,19.5 L65.8,18.7 L66.9,19.7 L67.4,22.2 L67,24.6 L65.8,25.5 L63.8,24.9 L61.9,24.2 L61.2,25.8 L59.9,26.8 L57.6,27.5 L55.3,27.3 L54,26.5 L49.7,26.2 L48.2,26.4 L47.9,28.7 L47.2,29.5 L46.1,28.4 L45.6,26.4 L43.1,25.4 L39.2,24.3 L36.6,23.5 L35.3,23 Z" fill="#000"/>
<path d="M200.6,22.9 L202.7,20.8 L205,18.5 L207.3,16.6 L209.7,15.6 L210.4,14.5 L212.9,14 L215,14.4 L218.7,14.9 L222,15.4 L224.1,16.4 L224.8,17.8 L224.3,19.2 L225.7,19.8 L229,18.4 L233.1,16.8 L230.6,21.5 L232.1,26.1 L229,24.5 L225.3,22.8 L224.3,23.4 L224.6,24.5 L223.4,25.5 L220.6,26.2 L217.8,26.2 L215,25.9 L214.1,26.6 L214.6,28.7 L213.6,28.9 L211.5,26.6 L210.6,25.9 L208.3,25.7 L205,25 L201.3,23.8 Z" fill="#000"/>
<path d="M371.15,18.63 L368.79,12.22 L368.21,12.38 L369.41,19.1 Z M371.86,18.88 L371.8,12.32 L371.2,12.28 L370.07,18.73 Z M372.71,19.73 L375.64,14.78 L375.16,14.42 L371.27,18.66 Z M372.98,20.56 L377.55,17.16 L377.25,16.64 L372.06,19.01 Z M372.78,21.75 L378.49,21.3 L378.51,20.7 L372.82,19.95 Z M371.92,22.69 L376.73,25.35 L377.07,24.85 L372.95,21.22 Z M371.17,22.96 L374.65,27.07 L375.15,26.73 L372.66,21.96 Z M369.9,22.8 L370.5,28.5 L371.1,28.5 L371.7,22.8 Z M368.98,22.02 L366.45,27.24 L366.95,27.56 L370.51,22.97 Z M368.65,21.24 L364.22,25.16 L364.58,25.64 L369.7,22.7 Z M368.73,20.07 L362.28,21.2 L362.32,21.8 L368.88,21.86 Z M369.12,19.39 L362.68,18.21 L362.52,18.79 L368.63,21.13 Z M370.07,18.73 L365.12,14.39 L364.68,14.81 L368.77,19.97 Z" fill="#2a2a2a"/>
<circle cx="370.8" cy="20.8" r="2.9" fill="#1e1e1e"/>
<path d="M541,29.9 L541.6,27.5 L542.1,26 L540.7,23.2 L538.5,21.5 L535,20.5 M540.7,23.2 L542.5,20.5 L543.3,16.5 L543.5,12.5 M541,22 L539,16.5 L537.4,13 M542.1,26 L545.8,24.9 L548.5,22 M545.8,24.9 L546.5,21 L548.5,16 L549,13.5 M535.5,21.5 L535.1,25 M538.5,21.5 L537.5,24" stroke="#1e1e1e" stroke-width="0.9" fill="none" stroke-linecap="round"/>
<g fill="#262626"><circle cx="533.74" cy="17.79" r="0.81"/><circle cx="532.23" cy="20.56" r="0.7"/><circle cx="532.15" cy="20.35" r="0.56"/><circle cx="534.4" cy="17.2" r="0.59"/><circle cx="534.35" cy="22.65" r="0.6"/><circle cx="533.14" cy="21.22" r="0.93"/><circle cx="535.26" cy="19.56" r="0.94"/><circle cx="533.54" cy="17.74" r="0.6"/><circle cx="533.65" cy="22.58" r="0.62"/><circle cx="535.29" cy="21.3" r="0.7"/><circle cx="535.09" cy="17.15" r="0.57"/><circle cx="533.04" cy="21.6" r="0.72"/><circle cx="533.68" cy="20.92" r="0.73"/><circle cx="533.6" cy="22.42" r="0.83"/><circle cx="533.26" cy="20.84" r="0.76"/><circle cx="537.05" cy="21.95" r="0.67"/><circle cx="534.31" cy="22.15" r="0.61"/><circle cx="534.73" cy="16.98" r="0.82"/><circle cx="536.39" cy="20.83" r="0.9"/><circle cx="533.68" cy="21.71" r="0.79"/><circle cx="535.28" cy="19.98" r="0.89"/><circle cx="537.47" cy="20.11" r="0.82"/><circle cx="532.16" cy="21.75" r="0.81"/><circle cx="533.51" cy="19.48" r="0.82"/><circle cx="531.94" cy="20.02" r="0.62"/><circle cx="536.41" cy="17.63" r="0.65"/><circle cx="537.03" cy="15.73" r="0.58"/><circle cx="537.34" cy="13.8" r="0.9"/><circle cx="539.26" cy="15.68" r="0.66"/><circle cx="537.16" cy="12.65" r="0.9"/><circle cx="535.92" cy="11.89" r="0.64"/><circle cx="537.52" cy="14.03" r="0.66"/><circle cx="536.92" cy="13.9" r="0.93"/><circle cx="538.59" cy="13.59" r="0.8"/><circle cx="538.52" cy="10.82" r="0.91"/><circle cx="539.06" cy="15.75" r="0.87"/><circle cx="537.04" cy="12.89" r="0.59"/><circle cx="538.3" cy="10.87" r="0.58"/><circle cx="536.09" cy="11.47" r="0.69"/><circle cx="536.89" cy="10.65" r="0.9"/><circle cx="538.19" cy="11.39" r="0.65"/><circle cx="536.81" cy="12.68" r="0.6"/><circle cx="537.42" cy="13.4" r="0.58"/><circle cx="535.53" cy="12.56" r="0.66"/><circle cx="539.31" cy="11.47" r="0.56"/><circle cx="539.95" cy="13.67" r="0.61"/><circle cx="537.82" cy="10.66" r="0.76"/><circle cx="538.62" cy="12.07" r="0.7"/><circle cx="542.17" cy="15.38" r="0.76"/><circle cx="544.98" cy="11.84" r="0.64"/><circle cx="545.32" cy="15.65" r="0.88"/><circle cx="544.8" cy="11.01" r="0.76"/><circle cx="543.04" cy="9.43" r="0.56"/><circle cx="542.69" cy="11.27" r="0.83"/><circle cx="545.8" cy="12.78" r="0.92"/><circle cx="543.08" cy="10.96" r="0.64"/><circle cx="542.3" cy="10.83" r="0.8"/><circle cx="543.61" cy="14.42" r="0.87"/><circle cx="541.79" cy="14.48" r="0.91"/><circle cx="545" cy="15.2" r="0.74"/><circle cx="542.22" cy="15.51" r="0.68"/><circle cx="543.22" cy="12.41" r="0.93"/><circle cx="544.73" cy="10.56" r="0.6"/><circle cx="545.11" cy="10.37" r="0.88"/><circle cx="543.01" cy="13.59" r="0.6"/><circle cx="544.39" cy="13.41" r="0.92"/><circle cx="543.4" cy="16.17" r="0.88"/><circle cx="542.37" cy="11.21" r="0.67"/><circle cx="542.51" cy="13.89" r="0.65"/><circle cx="543.33" cy="10.25" r="0.91"/><circle cx="543.03" cy="12.87" r="0.78"/><circle cx="545.56" cy="12.57" r="0.92"/><circle cx="543.71" cy="13.45" r="0.76"/><circle cx="541.49" cy="12.72" r="0.62"/><circle cx="546.96" cy="14.42" r="0.84"/><circle cx="548.88" cy="13.42" r="0.76"/><circle cx="548.88" cy="16.53" r="0.59"/><circle cx="548.9" cy="12.89" r="0.66"/><circle cx="549.96" cy="14.65" r="0.77"/><circle cx="549.9" cy="17.4" r="0.73"/><circle cx="549.16" cy="14.64" r="0.75"/><circle cx="549.56" cy="14.28" r="0.76"/><circle cx="548.49" cy="17.6" r="0.83"/><circle cx="547.4" cy="15" r="0.93"/><circle cx="550.3" cy="12.13" r="0.6"/><circle cx="548.31" cy="11.69" r="0.65"/><circle cx="546.47" cy="15.75" r="0.86"/><circle cx="549.68" cy="15.69" r="0.61"/><circle cx="548.09" cy="14.51" r="0.95"/><circle cx="550.26" cy="12.3" r="0.72"/><circle cx="548.68" cy="13.51" r="0.63"/><circle cx="547.69" cy="16.11" r="0.56"/><circle cx="548.87" cy="14.2" r="0.56"/><circle cx="547.76" cy="15.44" r="0.75"/><circle cx="546.62" cy="13.01" r="0.57"/><circle cx="549.99" cy="13.04" r="0.6"/><circle cx="548.9" cy="23.97" r="0.88"/><circle cx="548.04" cy="19.4" r="0.92"/><circle cx="549.67" cy="22.7" r="0.59"/><circle cx="547" cy="22.63" r="0.72"/><circle cx="550" cy="23.31" r="0.58"/><circle cx="551.19" cy="21.22" r="0.69"/><circle cx="549.58" cy="24.06" r="0.66"/><circle cx="547.37" cy="21.66" r="0.65"/><circle cx="548.32" cy="20.33" r="0.85"/><circle cx="548.21" cy="21.5" r="0.62"/><circle cx="550.51" cy="21.81" r="0.63"/><circle cx="549.17" cy="24.11" r="0.59"/><circle cx="550.96" cy="21.09" r="0.75"/><circle cx="551.04" cy="20.86" r="0.75"/><circle cx="548.48" cy="23.49" r="0.83"/><circle cx="550.01" cy="20.93" r="0.69"/><circle cx="547.07" cy="22.95" r="0.65"/><circle cx="550.19" cy="20.19" r="0.65"/><circle cx="548.22" cy="21.26" r="0.61"/><circle cx="549.02" cy="20.08" r="0.93"/><circle cx="546.1" cy="20.57" r="0.65"/><circle cx="543.97" cy="20.31" r="0.75"/><circle cx="543.32" cy="20.42" r="0.55"/><circle cx="543.55" cy="18.92" r="0.71"/><circle cx="543.7" cy="19.44" r="0.78"/><circle cx="544.51" cy="21.3" r="0.81"/><circle cx="545.18" cy="21.76" r="0.71"/><circle cx="543.14" cy="21.21" r="0.81"/><circle cx="545.81" cy="20.86" r="0.84"/><circle cx="541.24" cy="15.29" r="0.76"/><circle cx="540.31" cy="17.24" r="0.87"/><circle cx="541.28" cy="16.54" r="0.91"/><circle cx="540.85" cy="16.84" r="0.64"/><circle cx="539.88" cy="15.19" r="0.88"/><circle cx="540.48" cy="16.66" r="0.8"/><circle cx="540.84" cy="16.27" r="0.55"/><circle cx="538.2" cy="19.45" r="0.75"/><circle cx="537.67" cy="19.21" r="0.58"/><circle cx="538.07" cy="18.16" r="0.58"/><circle cx="537.13" cy="19.4" r="0.63"/></g>
</g>
<rect x="31.5" y="258.1" width="156.2" height="13.9" fill="none" stroke="#8a8a8a" stroke-width="1"/>
<text x="109.6" y="267.5" font-size="8.9" fill="#262626" text-anchor="middle" textLength="98.2" lengthAdjust="spacingAndGlyphs">Groupers (adults per ha)</text>
<line x1="31.5" y1="400.3" x2="187.7" y2="400.3" stroke="#8a8a8a" stroke-width="1"/>
<line x1="31.5" y1="272" x2="31.5" y2="400.8" stroke="#8a8a8a" stroke-width="1"/>
<line x1="28" y1="277.3" x2="31.5" y2="277.3" stroke="#8a8a8a" stroke-width="1"/>
<text x="24.9" y="279.8" font-size="7.6" font-style="italic" fill="#262626" text-anchor="end">Z1</text>
<line x1="28" y1="286.36" x2="31.5" y2="286.36" stroke="#8a8a8a" stroke-width="1"/>
<text x="24.9" y="288.86" font-size="7.6" font-style="italic" fill="#262626" text-anchor="end">Z2</text>
<line x1="28" y1="295.42" x2="31.5" y2="295.42" stroke="#8a8a8a" stroke-width="1"/>
<text x="24.9" y="297.92" font-size="7.6" font-style="italic" fill="#262626" text-anchor="end">Z3</text>
<line x1="28" y1="304.48" x2="31.5" y2="304.48" stroke="#8a8a8a" stroke-width="1"/>
<text x="24.9" y="306.98" font-size="7.6" font-style="italic" fill="#262626" text-anchor="end">F1</text>
<line x1="28" y1="313.54" x2="31.5" y2="313.54" stroke="#8a8a8a" stroke-width="1"/>
<text x="24.9" y="316.04" font-size="7.6" font-style="italic" fill="#262626" text-anchor="end">F2</text>
<line x1="28" y1="322.6" x2="31.5" y2="322.6" stroke="#8a8a8a" stroke-width="1"/>
<text x="24.9" y="325.1" font-size="7.6" font-style="italic" fill="#262626" text-anchor="end">F3</text>
<line x1="28" y1="331.66" x2="31.5" y2="331.66" stroke="#8a8a8a" stroke-width="1"/>
<text x="24.9" y="334.16" font-size="7.6" font-style="italic" fill="#262626" text-anchor="end">F4</text>
<line x1="28" y1="340.72" x2="31.5" y2="340.72" stroke="#8a8a8a" stroke-width="1"/>
<text x="24.9" y="343.22" font-size="7.6" font-style="italic" fill="#262626" text-anchor="end">A1</text>
<line x1="28" y1="349.78" x2="31.5" y2="349.78" stroke="#8a8a8a" stroke-width="1"/>
<text x="24.9" y="352.28" font-size="7.6" font-style="italic" fill="#262626" text-anchor="end">M1</text>
<line x1="28" y1="358.84" x2="31.5" y2="358.84" stroke="#8a8a8a" stroke-width="1"/>
<text x="24.9" y="361.34" font-size="7.6" font-style="italic" fill="#262626" text-anchor="end">M2</text>
<line x1="28" y1="367.9" x2="31.5" y2="367.9" stroke="#8a8a8a" stroke-width="1"/>
<text x="24.9" y="370.4" font-size="7.6" font-style="italic" fill="#262626" text-anchor="end">M3</text>
<line x1="28" y1="376.96" x2="31.5" y2="376.96" stroke="#8a8a8a" stroke-width="1"/>
<text x="24.9" y="379.46" font-size="7.6" font-style="italic" fill="#262626" text-anchor="end">M4</text>
<line x1="28" y1="386.02" x2="31.5" y2="386.02" stroke="#8a8a8a" stroke-width="1"/>
<text x="24.9" y="388.52" font-size="7.6" font-style="italic" fill="#262626" text-anchor="end">C1</text>
<line x1="28" y1="395.08" x2="31.5" y2="395.08" stroke="#8a8a8a" stroke-width="1"/>
<text x="24.9" y="397.58" font-size="7.6" font-style="italic" fill="#262626" text-anchor="end">C2</text>
<line x1="59.5" y1="400.3" x2="59.5" y2="404" stroke="#8a8a8a" stroke-width="1"/>
<text x="59.5" y="413.5" font-size="8.2" fill="#262626" text-anchor="middle"><tspan textLength="3.9" lengthAdjust="spacingAndGlyphs">−</tspan>4</text>
<line x1="101.6" y1="400.3" x2="101.6" y2="404" stroke="#8a8a8a" stroke-width="1"/>
<text x="101.6" y="413.5" font-size="8.2" fill="#262626" text-anchor="middle">0</text>
<line x1="143.7" y1="400.3" x2="143.7" y2="404" stroke="#8a8a8a" stroke-width="1"/>
<text x="143.7" y="413.5" font-size="8.2" fill="#262626" text-anchor="middle">4</text>
<line x1="185.8" y1="400.3" x2="185.8" y2="404" stroke="#8a8a8a" stroke-width="1"/>
<text x="185.8" y="413.5" font-size="8.2" fill="#262626" text-anchor="middle">8</text>
<line x1="101.6" y1="272" x2="101.6" y2="400.3" stroke="#6e6e6e" stroke-width="1" stroke-dasharray="3.4 1.6"/>
<path d="M91.2,277.3H122.3M91.2,276.2V278.4M122.3,276.2V278.4" stroke="#7b7b7b" stroke-width="1.0" fill="none"/>
<circle cx="105.9" cy="277.3" r="2.2" fill="#000"/>
<text x="126.9" y="280.25" font-size="8.3" fill="#262626"><tspan textLength="8.9" lengthAdjust="spacingAndGlyphs">75</tspan><tspan textLength="5.9" lengthAdjust="spacingAndGlyphs">%</tspan></text>
<path d="M91.2,286.36H120.4M91.2,285.26V287.46M120.4,285.26V287.46" stroke="#7b7b7b" stroke-width="1.0" fill="none"/>
<circle cx="104.8" cy="286.36" r="2.2" fill="#000"/>
<text x="124.5" y="289.31" font-size="8.3" fill="#262626"><tspan textLength="8.9" lengthAdjust="spacingAndGlyphs">60</tspan><tspan textLength="5.9" lengthAdjust="spacingAndGlyphs">%</tspan></text>
<path d="M133.3,295.42H167.4M133.3,294.32V296.52M167.4,294.32V296.52" stroke="#80baf2" stroke-width="1.0" fill="none"/>
<circle cx="148.2" cy="295.42" r="1.9" fill="#1f82ea"/>
<text x="172.9" y="298.37" font-size="8.3" fill="#262626"><tspan textLength="12.9" lengthAdjust="spacingAndGlyphs">100</tspan><tspan textLength="5.9" lengthAdjust="spacingAndGlyphs">%</tspan></text>
<path d="M115.3,304.48H142.9M115.3,303.38V305.58M142.9,303.38V305.58" stroke="#80baf2" stroke-width="1.0" fill="none"/>
<circle cx="125.8" cy="304.48" r="1.9" fill="#1f82ea"/>
<text x="148.4" y="307.43" font-size="8.3" fill="#262626"><tspan textLength="12.9" lengthAdjust="spacingAndGlyphs">100</tspan><tspan textLength="5.9" lengthAdjust="spacingAndGlyphs">%</tspan></text>
<path d="M87.2,313.54H122.3M87.2,312.44V314.64M122.3,312.44V314.64" stroke="#828282" stroke-width="1.0" fill="none"/>
<circle cx="105.5" cy="313.54" r="2.2" fill="#000"/>
<text x="126.4" y="316.49" font-size="8.3" fill="#262626"><tspan textLength="8.9" lengthAdjust="spacingAndGlyphs">65</tspan><tspan textLength="5.9" lengthAdjust="spacingAndGlyphs">%</tspan></text>
<path d="M55.2,322.6H95.9M55.2,321.5V323.7M95.9,321.5V323.7" stroke="#f39985" stroke-width="1.0" fill="none"/>
<circle cx="69" cy="322.6" r="1.9" fill="#f2553b"/>
<text x="98.8" y="325.55" font-size="8.3" fill="#262626"><tspan textLength="4.45" lengthAdjust="spacingAndGlyphs">5</tspan><tspan textLength="5.9" lengthAdjust="spacingAndGlyphs">%</tspan></text>
<path d="M98.2,331.66H124.6M98.2,330.56V332.76M124.6,330.56V332.76" stroke="#7b7b7b" stroke-width="1.0" fill="none"/>
<circle cx="108.7" cy="331.66" r="2.2" fill="#000"/>
<text x="129.2" y="334.61" font-size="8.3" fill="#262626"><tspan textLength="8.9" lengthAdjust="spacingAndGlyphs">80</tspan><tspan textLength="5.9" lengthAdjust="spacingAndGlyphs">%</tspan></text>
<path d="M93.6,340.72H122.3M93.6,339.62V341.82M122.3,339.62V341.82" stroke="#949494" stroke-width="1.0" fill="none"/>
<circle cx="101.7" cy="340.72" r="2.2" fill="#000"/>
<text x="126.4" y="343.67" font-size="8.3" fill="#262626"><tspan textLength="8.9" lengthAdjust="spacingAndGlyphs">50</tspan><tspan textLength="5.9" lengthAdjust="spacingAndGlyphs">%</tspan></text>
<path d="M97.1,349.78H111.3M97.1,348.68V350.88M111.3,348.68V350.88" stroke="#9c9c9c" stroke-width="1.0" fill="none"/>
<circle cx="102" cy="349.78" r="2.2" fill="#000"/>
<text x="115.6" y="352.73" font-size="8.3" fill="#262626"><tspan textLength="8.9" lengthAdjust="spacingAndGlyphs">55</tspan><tspan textLength="5.9" lengthAdjust="spacingAndGlyphs">%</tspan></text>
<path d="M95.4,358.84H116.4M95.4,357.74V359.94M116.4,357.74V359.94" stroke="#939393" stroke-width="1.0" fill="none"/>
<circle cx="102" cy="358.84" r="2.2" fill="#000"/>
<text x="120.6" y="361.79" font-size="8.3" fill="#262626"><tspan textLength="8.9" lengthAdjust="spacingAndGlyphs">55</tspan><tspan textLength="5.9" lengthAdjust="spacingAndGlyphs">%</tspan></text>
<path d="M94.5,367.9H125.3M94.5,366.8V369M125.3,366.8V369" stroke="#7c7c7c" stroke-width="1.0" fill="none"/>
<circle cx="104.3" cy="367.9" r="2.2" fill="#000"/>
<text x="129.9" y="370.85" font-size="8.3" fill="#262626"><tspan textLength="8.9" lengthAdjust="spacingAndGlyphs">70</tspan><tspan textLength="5.9" lengthAdjust="spacingAndGlyphs">%</tspan></text>
<path d="M95.4,376.96H127.7M95.4,375.86V378.06M127.7,375.86V378.06" stroke="#848484" stroke-width="1.0" fill="none"/>
<circle cx="103.4" cy="376.96" r="2.2" fill="#000"/>
<text x="131.5" y="379.91" font-size="8.3" fill="#262626"><tspan textLength="8.9" lengthAdjust="spacingAndGlyphs">80</tspan><tspan textLength="5.9" lengthAdjust="spacingAndGlyphs">%</tspan></text>
<path d="M93.1,386.02H120M93.1,384.92V387.12M120,384.92V387.12" stroke="#6d6d6d" stroke-width="1.0" fill="none"/>
<circle cx="103.6" cy="386.02" r="2.2" fill="#000"/>
<text x="124.5" y="388.97" font-size="8.3" fill="#262626"><tspan textLength="8.9" lengthAdjust="spacingAndGlyphs">60</tspan><tspan textLength="5.9" lengthAdjust="spacingAndGlyphs">%</tspan></text>
<path d="M134.4,395.08H166.7M134.4,393.98V396.18M166.7,393.98V396.18" stroke="#80baf2" stroke-width="1.0" fill="none"/>
<circle cx="148.7" cy="395.08" r="1.9" fill="#1f82ea"/>
<text x="171.9" y="398.03" font-size="8.3" fill="#262626"><tspan textLength="12.9" lengthAdjust="spacingAndGlyphs">100</tspan><tspan textLength="5.9" lengthAdjust="spacingAndGlyphs">%</tspan></text>
<rect x="197.3" y="258.1" width="156.6" height="13.9" fill="none" stroke="#8a8a8a" stroke-width="1"/>
<text x="275.6" y="267.5" font-size="8.9" fill="#262626" text-anchor="middle" textLength="99.4" lengthAdjust="spacingAndGlyphs">Emperors (adults per ha)</text>
<line x1="197.3" y1="400.3" x2="353.9" y2="400.3" stroke="#8a8a8a" stroke-width="1"/>
<line x1="224.7" y1="400.3" x2="224.7" y2="404" stroke="#8a8a8a" stroke-width="1"/>
<text x="224.7" y="413.5" font-size="8.2" fill="#262626" text-anchor="middle"><tspan textLength="3.9" lengthAdjust="spacingAndGlyphs">−</tspan>1</text>
<line x1="265.1" y1="400.3" x2="265.1" y2="404" stroke="#8a8a8a" stroke-width="1"/>
<text x="265.1" y="413.5" font-size="8.2" fill="#262626" text-anchor="middle">0</text>
<line x1="305.5" y1="400.3" x2="305.5" y2="404" stroke="#8a8a8a" stroke-width="1"/>
<text x="305.5" y="413.5" font-size="8.2" fill="#262626" text-anchor="middle">1</text>
<line x1="346" y1="400.3" x2="346" y2="404" stroke="#8a8a8a" stroke-width="1"/>
<text x="346" y="413.5" font-size="8.2" fill="#262626" text-anchor="middle">2</text>
<line x1="265.1" y1="272" x2="265.1" y2="400.3" stroke="#6e6e6e" stroke-width="1" stroke-dasharray="3.4 1.6"/>
<path d="M246.9,277.3H285.4M246.9,276.2V278.4M285.4,276.2V278.4" stroke="#737373" stroke-width="1.0" fill="none"/>
<circle cx="266.7" cy="277.3" r="2.2" fill="#000"/>
<text x="289.5" y="280.25" font-size="8.3" fill="#262626"><tspan textLength="8.9" lengthAdjust="spacingAndGlyphs">55</tspan><tspan textLength="5.9" lengthAdjust="spacingAndGlyphs">%</tspan></text>
<path d="M248.3,286.36H279.1M248.3,285.26V287.46M279.1,285.26V287.46" stroke="#737373" stroke-width="1.0" fill="none"/>
<circle cx="263.9" cy="286.36" r="2.2" fill="#000"/>
<text x="283.7" y="289.31" font-size="8.3" fill="#262626"><tspan textLength="8.9" lengthAdjust="spacingAndGlyphs">50</tspan><tspan textLength="5.9" lengthAdjust="spacingAndGlyphs">%</tspan></text>
<path d="M305.3,295.42H334.7M305.3,294.32V296.52M334.7,294.32V296.52" stroke="#74b3f2" stroke-width="1.0" fill="none"/>
<circle cx="319.3" cy="295.42" r="1.9" fill="#1f82ea"/>
<text x="339.8" y="298.37" font-size="8.3" fill="#262626"><tspan textLength="12.9" lengthAdjust="spacingAndGlyphs">100</tspan><tspan textLength="5.9" lengthAdjust="spacingAndGlyphs">%</tspan></text>
<path d="M264.6,304.48H309.5M264.6,303.38V305.58M309.5,303.38V305.58" stroke="#737373" stroke-width="1.0" fill="none"/>
<circle cx="293.1" cy="304.48" r="2.2" fill="#000"/>
<text x="314.1" y="307.43" font-size="8.3" fill="#262626"><tspan textLength="8.9" lengthAdjust="spacingAndGlyphs">95</tspan><tspan textLength="5.9" lengthAdjust="spacingAndGlyphs">%</tspan></text>
<path d="M250.6,313.54H283.3M250.6,312.44V314.64M283.3,312.44V314.64" stroke="#7b7b7b" stroke-width="1.0" fill="none"/>
<circle cx="265.1" cy="313.54" r="2.2" fill="#000"/>
<text x="287.9" y="316.49" font-size="8.3" fill="#262626"><tspan textLength="8.9" lengthAdjust="spacingAndGlyphs">50</tspan><tspan textLength="5.9" lengthAdjust="spacingAndGlyphs">%</tspan></text>
<path d="M219.5,322.6H257.6M219.5,321.5V323.7M257.6,321.5V323.7" stroke="#f39985" stroke-width="1.0" fill="none"/>
<circle cx="238.9" cy="322.6" r="1.9" fill="#f2553b"/>
<text x="261" y="325.55" font-size="8.3" fill="#262626"><tspan textLength="4.45" lengthAdjust="spacingAndGlyphs">0</tspan><tspan textLength="5.9" lengthAdjust="spacingAndGlyphs">%</tspan></text>
<path d="M254.6,331.66H291.3M254.6,330.56V332.76M291.3,330.56V332.76" stroke="#7b7b7b" stroke-width="1.0" fill="none"/>
<circle cx="270.2" cy="331.66" r="2.2" fill="#000"/>
<text x="295.9" y="334.61" font-size="8.3" fill="#262626"><tspan textLength="8.9" lengthAdjust="spacingAndGlyphs">80</tspan><tspan textLength="5.9" lengthAdjust="spacingAndGlyphs">%</tspan></text>
<path d="M250.4,340.72H285.7M250.4,339.62V341.82M285.7,339.62V341.82" stroke="#7d7d7d" stroke-width="1.0" fill="none"/>
<circle cx="265.8" cy="340.72" r="2.2" fill="#000"/>
<text x="290" y="343.67" font-size="8.3" fill="#262626"><tspan textLength="8.9" lengthAdjust="spacingAndGlyphs">55</tspan><tspan textLength="5.9" lengthAdjust="spacingAndGlyphs">%</tspan></text>
<path d="M260.9,349.78H273.3M260.9,348.68V350.88M273.3,348.68V350.88" stroke="#858585" stroke-width="1.0" fill="none"/>
<circle cx="266.3" cy="349.78" r="2.2" fill="#000"/>
<text x="277.9" y="352.73" font-size="8.3" fill="#262626"><tspan textLength="8.9" lengthAdjust="spacingAndGlyphs">60</tspan><tspan textLength="5.9" lengthAdjust="spacingAndGlyphs">%</tspan></text>
<path d="M255.7,358.84H276.8M255.7,357.74V359.94M276.8,357.74V359.94" stroke="#848484" stroke-width="1.0" fill="none"/>
<circle cx="265.3" cy="358.84" r="2.2" fill="#000"/>
<text x="281.3" y="361.79" font-size="8.3" fill="#262626"><tspan textLength="8.9" lengthAdjust="spacingAndGlyphs">55</tspan><tspan textLength="5.9" lengthAdjust="spacingAndGlyphs">%</tspan></text>
<path d="M257.6,367.9H277.2M257.6,366.8V369M277.2,366.8V369" stroke="#757575" stroke-width="1.0" fill="none"/>
<circle cx="264.9" cy="367.9" r="2.2" fill="#000"/>
<text x="281.8" y="370.85" font-size="8.3" fill="#262626"><tspan textLength="8.9" lengthAdjust="spacingAndGlyphs">50</tspan><tspan textLength="5.9" lengthAdjust="spacingAndGlyphs">%</tspan></text>
<path d="M261.4,376.96H278.4M261.4,375.86V378.06M278.4,375.86V378.06" stroke="#848484" stroke-width="1.0" fill="none"/>
<circle cx="266.3" cy="376.96" r="2.2" fill="#000"/>
<text x="282.5" y="379.91" font-size="8.3" fill="#262626"><tspan textLength="8.9" lengthAdjust="spacingAndGlyphs">55</tspan><tspan textLength="5.9" lengthAdjust="spacingAndGlyphs">%</tspan></text>
<path d="M242.4,386.02H280.5M242.4,384.92V387.12M280.5,384.92V387.12" stroke="#6d6d6d" stroke-width="1.0" fill="none"/>
<circle cx="266" cy="386.02" r="2.2" fill="#000"/>
<text x="284.9" y="388.97" font-size="8.3" fill="#262626"><tspan textLength="8.9" lengthAdjust="spacingAndGlyphs">55</tspan><tspan textLength="5.9" lengthAdjust="spacingAndGlyphs">%</tspan></text>
<path d="M305.3,395.08H335.7M305.3,393.98V396.18M335.7,393.98V396.18" stroke="#74b3f2" stroke-width="1.0" fill="none"/>
<circle cx="320" cy="395.08" r="1.9" fill="#1f82ea"/>
<text x="340.9" y="398.03" font-size="8.3" fill="#262626"><tspan textLength="12.9" lengthAdjust="spacingAndGlyphs">100</tspan><tspan textLength="5.9" lengthAdjust="spacingAndGlyphs">%</tspan></text>
<rect x="362.4" y="258.1" width="156.9" height="13.9" fill="none" stroke="#8a8a8a" stroke-width="1"/>
<text x="440.85" y="267.5" font-size="8.9" fill="#262626" text-anchor="middle" textLength="87.6" lengthAdjust="spacingAndGlyphs">Outbreaking reefs (%)</text>
<line x1="362.4" y1="400.3" x2="519.3" y2="400.3" stroke="#8a8a8a" stroke-width="1"/>
<line x1="369.9" y1="400.3" x2="369.9" y2="404" stroke="#8a8a8a" stroke-width="1"/>
<text x="369.9" y="413.5" font-size="8.2" fill="#262626" text-anchor="middle"><tspan textLength="3.9" lengthAdjust="spacingAndGlyphs">−</tspan>20</text>
<line x1="405.2" y1="400.3" x2="405.2" y2="404" stroke="#8a8a8a" stroke-width="1"/>
<text x="405.2" y="413.5" font-size="8.2" fill="#262626" text-anchor="middle"><tspan textLength="3.9" lengthAdjust="spacingAndGlyphs">−</tspan>10</text>
<line x1="440.6" y1="400.3" x2="440.6" y2="404" stroke="#8a8a8a" stroke-width="1"/>
<text x="440.6" y="413.5" font-size="8.2" fill="#262626" text-anchor="middle">0</text>
<line x1="476" y1="400.3" x2="476" y2="404" stroke="#8a8a8a" stroke-width="1"/>
<text x="476" y="413.5" font-size="8.2" fill="#262626" text-anchor="middle">10</text>
<line x1="511.3" y1="400.3" x2="511.3" y2="404" stroke="#8a8a8a" stroke-width="1"/>
<text x="511.3" y="413.5" font-size="8.2" fill="#262626" text-anchor="middle">20</text>
<line x1="440.6" y1="272" x2="440.6" y2="400.3" stroke="#6e6e6e" stroke-width="1" stroke-dasharray="3.4 1.6"/>
<path d="M409.1,277.3H458.7M409.1,276.2V278.4M458.7,276.2V278.4" stroke="#737373" stroke-width="1.0" fill="none"/>
<circle cx="430.7" cy="277.3" r="2.2" fill="#000"/>
<text x="463.1" y="280.25" font-size="8.3" fill="#262626"><tspan textLength="8.9" lengthAdjust="spacingAndGlyphs">35</tspan><tspan textLength="5.9" lengthAdjust="spacingAndGlyphs">%</tspan></text>
<path d="M412.6,286.36H454.8M412.6,285.26V287.46M454.8,285.26V287.46" stroke="#7b7b7b" stroke-width="1.0" fill="none"/>
<circle cx="437.4" cy="286.36" r="2.2" fill="#000"/>
<text x="458.6" y="289.31" font-size="8.3" fill="#262626"><tspan textLength="8.9" lengthAdjust="spacingAndGlyphs">35</tspan><tspan textLength="5.9" lengthAdjust="spacingAndGlyphs">%</tspan></text>
<path d="M414.6,295.42H463.7M414.6,294.32V296.52M463.7,294.32V296.52" stroke="#737373" stroke-width="1.0" fill="none"/>
<circle cx="440.4" cy="295.42" r="2.2" fill="#000"/>
<text x="468.3" y="298.37" font-size="8.3" fill="#262626"><tspan textLength="8.9" lengthAdjust="spacingAndGlyphs">40</tspan><tspan textLength="5.9" lengthAdjust="spacingAndGlyphs">%</tspan></text>
<path d="M405.4,304.48H474.1M405.4,303.38V305.58M474.1,303.38V305.58" stroke="#8a8a8a" stroke-width="1.0" fill="none"/>
<circle cx="446.3" cy="304.48" r="2.2" fill="#000"/>
<text x="478.5" y="307.43" font-size="8.3" fill="#262626"><tspan textLength="8.9" lengthAdjust="spacingAndGlyphs">65</tspan><tspan textLength="5.9" lengthAdjust="spacingAndGlyphs">%</tspan></text>
<path d="M410.1,313.54H473.1M410.1,312.44V314.64M473.1,312.44V314.64" stroke="#8a8a8a" stroke-width="1.0" fill="none"/>
<circle cx="441.8" cy="313.54" r="2.2" fill="#000"/>
<text x="477.7" y="316.49" font-size="8.3" fill="#262626"><tspan textLength="8.9" lengthAdjust="spacingAndGlyphs">60</tspan><tspan textLength="5.9" lengthAdjust="spacingAndGlyphs">%</tspan></text>
<path d="M410.8,322.6H465.9M410.8,321.5V323.7M465.9,321.5V323.7" stroke="#8a8a8a" stroke-width="1.0" fill="none"/>
<circle cx="440.6" cy="322.6" r="2.2" fill="#000"/>
<text x="470.3" y="325.55" font-size="8.3" fill="#262626"><tspan textLength="8.9" lengthAdjust="spacingAndGlyphs">45</tspan><tspan textLength="5.9" lengthAdjust="spacingAndGlyphs">%</tspan></text>
<path d="M414.6,331.66H472.9M414.6,330.56V332.76M472.9,330.56V332.76" stroke="#929292" stroke-width="1.0" fill="none"/>
<circle cx="447.3" cy="331.66" r="2.2" fill="#000"/>
<text x="477.2" y="334.61" font-size="8.3" fill="#262626"><tspan textLength="8.9" lengthAdjust="spacingAndGlyphs">70</tspan><tspan textLength="5.9" lengthAdjust="spacingAndGlyphs">%</tspan></text>
<path d="M408.3,340.72H463.4M408.3,339.62V341.82M463.4,339.62V341.82" stroke="#858585" stroke-width="1.0" fill="none"/>
<circle cx="445.8" cy="340.72" r="2.2" fill="#000"/>
<text x="467.8" y="343.67" font-size="8.3" fill="#262626"><tspan textLength="8.9" lengthAdjust="spacingAndGlyphs">70</tspan><tspan textLength="5.9" lengthAdjust="spacingAndGlyphs">%</tspan></text>
<path d="M415,349.78H451.3M415,348.68V350.88M451.3,348.68V350.88" stroke="#949494" stroke-width="1.0" fill="none"/>
<circle cx="438.9" cy="349.78" r="2.2" fill="#000"/>
<text x="455.4" y="352.73" font-size="8.3" fill="#262626"><tspan textLength="8.9" lengthAdjust="spacingAndGlyphs">20</tspan><tspan textLength="5.9" lengthAdjust="spacingAndGlyphs">%</tspan></text>
<path d="M413.3,358.84H456.2M413.3,357.74V359.94M456.2,357.74V359.94" stroke="#848484" stroke-width="1.0" fill="none"/>
<circle cx="435.6" cy="358.84" r="2.2" fill="#000"/>
<text x="460.4" y="361.79" font-size="8.3" fill="#262626"><tspan textLength="8.9" lengthAdjust="spacingAndGlyphs">25</tspan><tspan textLength="5.9" lengthAdjust="spacingAndGlyphs">%</tspan></text>
<path d="M408.3,367.9H457.5M408.3,366.8V369M457.5,366.8V369" stroke="#7c7c7c" stroke-width="1.0" fill="none"/>
<circle cx="436.4" cy="367.9" r="2.2" fill="#000"/>
<text x="462.1" y="370.85" font-size="8.3" fill="#262626"><tspan textLength="8.9" lengthAdjust="spacingAndGlyphs">30</tspan><tspan textLength="5.9" lengthAdjust="spacingAndGlyphs">%</tspan></text>
<path d="M398.4,376.96H448.5M398.4,375.86V378.06M448.5,375.86V378.06" stroke="#7c7c7c" stroke-width="1.0" fill="none"/>
<circle cx="433.9" cy="376.96" r="2.2" fill="#000"/>
<text x="452.4" y="379.91" font-size="8.3" fill="#262626"><tspan textLength="8.9" lengthAdjust="spacingAndGlyphs">10</tspan><tspan textLength="5.9" lengthAdjust="spacingAndGlyphs">%</tspan></text>
<path d="M415.8,386.02H459.2M415.8,384.92V387.12M459.2,384.92V387.12" stroke="#7c7c7c" stroke-width="1.0" fill="none"/>
<circle cx="435.1" cy="386.02" r="2.2" fill="#000"/>
<text x="463.3" y="388.97" font-size="8.3" fill="#262626"><tspan textLength="8.9" lengthAdjust="spacingAndGlyphs">30</tspan><tspan textLength="5.9" lengthAdjust="spacingAndGlyphs">%</tspan></text>
<path d="M406.6,395.08H460.5M406.6,393.98V396.18M460.5,393.98V396.18" stroke="#6d6d6d" stroke-width="1.0" fill="none"/>
<circle cx="433.2" cy="395.08" r="2.2" fill="#000"/>
<text x="464.6" y="398.03" font-size="8.3" fill="#262626"><tspan textLength="8.9" lengthAdjust="spacingAndGlyphs">20</tspan><tspan textLength="5.9" lengthAdjust="spacingAndGlyphs">%</tspan></text>
<rect x="528.2" y="258.1" width="156" height="13.9" fill="none" stroke="#8a8a8a" stroke-width="1"/>
<text x="606.2" y="267.5" font-size="8.9" fill="#262626" text-anchor="middle" textLength="62.3" lengthAdjust="spacingAndGlyphs">Coral cover (%)</text>
<line x1="528.2" y1="400.3" x2="684.2" y2="400.3" stroke="#8a8a8a" stroke-width="1"/>
<line x1="558.3" y1="400.3" x2="558.3" y2="404" stroke="#8a8a8a" stroke-width="1"/>
<text x="558.3" y="413.5" font-size="8.2" fill="#262626" text-anchor="middle"><tspan textLength="3.9" lengthAdjust="spacingAndGlyphs">−</tspan>4</text>
<line x1="588.3" y1="400.3" x2="588.3" y2="404" stroke="#8a8a8a" stroke-width="1"/>
<text x="588.3" y="413.5" font-size="8.2" fill="#262626" text-anchor="middle">0</text>
<line x1="618.3" y1="400.3" x2="618.3" y2="404" stroke="#8a8a8a" stroke-width="1"/>
<text x="618.3" y="413.5" font-size="8.2" fill="#262626" text-anchor="middle">4</text>
<line x1="648.3" y1="400.3" x2="648.3" y2="404" stroke="#8a8a8a" stroke-width="1"/>
<text x="648.3" y="413.5" font-size="8.2" fill="#262626" text-anchor="middle">8</text>
<line x1="678.3" y1="400.3" x2="678.3" y2="404" stroke="#8a8a8a" stroke-width="1"/>
<text x="678.3" y="413.5" font-size="8.2" fill="#262626" text-anchor="middle">12</text>
<line x1="588.3" y1="272" x2="588.3" y2="400.3" stroke="#6e6e6e" stroke-width="1" stroke-dasharray="3.4 1.6"/>
<path d="M568.3,277.3H658.4M568.3,276.2V278.4M658.4,276.2V278.4" stroke="#7b7b7b" stroke-width="1.0" fill="none"/>
<circle cx="603.8" cy="277.3" r="2.2" fill="#000"/>
<text x="662.8" y="280.25" font-size="8.3" fill="#262626"><tspan textLength="8.9" lengthAdjust="spacingAndGlyphs">85</tspan><tspan textLength="5.9" lengthAdjust="spacingAndGlyphs">%</tspan></text>
<path d="M571.6,286.36H634.1M571.6,285.26V287.46M634.1,285.26V287.46" stroke="#7b7b7b" stroke-width="1.0" fill="none"/>
<circle cx="599.9" cy="286.36" r="2.2" fill="#000"/>
<text x="638.5" y="289.31" font-size="8.3" fill="#262626"><tspan textLength="8.9" lengthAdjust="spacingAndGlyphs">80</tspan><tspan textLength="5.9" lengthAdjust="spacingAndGlyphs">%</tspan></text>
<path d="M557.7,295.42H641.1M557.7,294.32V296.52M641.1,294.32V296.52" stroke="#7b7b7b" stroke-width="1.0" fill="none"/>
<circle cx="594.4" cy="295.42" r="2.2" fill="#000"/>
<text x="645.2" y="298.37" font-size="8.3" fill="#262626"><tspan textLength="8.9" lengthAdjust="spacingAndGlyphs">60</tspan><tspan textLength="5.9" lengthAdjust="spacingAndGlyphs">%</tspan></text>
<path d="M549.2,304.48H633.6M549.2,303.38V305.58M633.6,303.38V305.58" stroke="#828282" stroke-width="1.0" fill="none"/>
<circle cx="594.4" cy="304.48" r="2.2" fill="#000"/>
<text x="638.2" y="307.43" font-size="8.3" fill="#262626"><tspan textLength="8.9" lengthAdjust="spacingAndGlyphs">60</tspan><tspan textLength="5.9" lengthAdjust="spacingAndGlyphs">%</tspan></text>
<path d="M567.6,313.54H636.1M567.6,312.44V314.64M636.1,312.44V314.64" stroke="#8a8a8a" stroke-width="1.0" fill="none"/>
<circle cx="587.7" cy="313.54" r="2.2" fill="#000"/>
<text x="639.7" y="316.49" font-size="8.3" fill="#262626"><tspan textLength="8.9" lengthAdjust="spacingAndGlyphs">45</tspan><tspan textLength="5.9" lengthAdjust="spacingAndGlyphs">%</tspan></text>
<path d="M559.2,322.6H641.1M559.2,321.5V323.7M641.1,321.5V323.7" stroke="#8a8a8a" stroke-width="1.0" fill="none"/>
<circle cx="600.6" cy="322.6" r="2.2" fill="#000"/>
<text x="645.2" y="325.55" font-size="8.3" fill="#262626"><tspan textLength="8.9" lengthAdjust="spacingAndGlyphs">80</tspan><tspan textLength="5.9" lengthAdjust="spacingAndGlyphs">%</tspan></text>
<path d="M564.6,331.66H624.2M564.6,330.56V332.76M624.2,330.56V332.76" stroke="#8a8a8a" stroke-width="1.0" fill="none"/>
<circle cx="587.5" cy="331.66" r="2.2" fill="#000"/>
<text x="629" y="334.61" font-size="8.3" fill="#262626"><tspan textLength="8.9" lengthAdjust="spacingAndGlyphs">45</tspan><tspan textLength="5.9" lengthAdjust="spacingAndGlyphs">%</tspan></text>
<path d="M547.3,340.72H628.6M547.3,339.62V341.82M628.6,339.62V341.82" stroke="#8c8c8c" stroke-width="1.0" fill="none"/>
<circle cx="590.4" cy="340.72" r="2.2" fill="#000"/>
<text x="632.8" y="343.67" font-size="8.3" fill="#262626"><tspan textLength="8.9" lengthAdjust="spacingAndGlyphs">55</tspan><tspan textLength="5.9" lengthAdjust="spacingAndGlyphs">%</tspan></text>
<path d="M573.3,349.78H606.8M573.3,348.68V350.88M606.8,348.68V350.88" stroke="#9c9c9c" stroke-width="1.0" fill="none"/>
<circle cx="588.7" cy="349.78" r="2.2" fill="#000"/>
<text x="611.2" y="352.73" font-size="8.3" fill="#262626"><tspan textLength="8.9" lengthAdjust="spacingAndGlyphs">65</tspan><tspan textLength="5.9" lengthAdjust="spacingAndGlyphs">%</tspan></text>
<path d="M562.9,358.84H619.2M562.9,357.74V359.94M619.2,357.74V359.94" stroke="#8c8c8c" stroke-width="1.0" fill="none"/>
<circle cx="592.7" cy="358.84" r="2.2" fill="#000"/>
<text x="623.3" y="361.79" font-size="8.3" fill="#262626"><tspan textLength="8.9" lengthAdjust="spacingAndGlyphs">70</tspan><tspan textLength="5.9" lengthAdjust="spacingAndGlyphs">%</tspan></text>
<path d="M557.7,367.9H638.6M557.7,366.8V369M638.6,366.8V369" stroke="#8c8c8c" stroke-width="1.0" fill="none"/>
<circle cx="586.2" cy="367.9" r="2.2" fill="#000"/>
<text x="643.2" y="370.85" font-size="8.3" fill="#262626"><tspan textLength="8.9" lengthAdjust="spacingAndGlyphs">45</tspan><tspan textLength="5.9" lengthAdjust="spacingAndGlyphs">%</tspan></text>
<path d="M566.4,376.96H658.9M566.4,375.86V378.06M658.9,375.86V378.06" stroke="#8c8c8c" stroke-width="1.0" fill="none"/>
<circle cx="590.9" cy="376.96" r="2.2" fill="#000"/>
<text x="663.3" y="379.91" font-size="8.3" fill="#262626"><tspan textLength="8.9" lengthAdjust="spacingAndGlyphs">85</tspan><tspan textLength="5.9" lengthAdjust="spacingAndGlyphs">%</tspan></text>
<path d="M560.2,386.02H647.8M560.2,384.92V387.12M647.8,384.92V387.12" stroke="#757575" stroke-width="1.0" fill="none"/>
<circle cx="597.9" cy="386.02" r="2.2" fill="#000"/>
<text x="652.1" y="388.97" font-size="8.3" fill="#262626"><tspan textLength="8.9" lengthAdjust="spacingAndGlyphs">75</tspan><tspan textLength="5.9" lengthAdjust="spacingAndGlyphs">%</tspan></text>
<path d="M558.4,395.08H642.8M558.4,393.98V396.18M642.8,393.98V396.18" stroke="#757575" stroke-width="1.0" fill="none"/>
<circle cx="596.1" cy="395.08" r="2.2" fill="#000"/>
<text x="646.4" y="398.03" font-size="8.3" fill="#262626"><tspan textLength="8.9" lengthAdjust="spacingAndGlyphs">65</tspan><tspan textLength="5.9" lengthAdjust="spacingAndGlyphs">%</tspan></text>
<text transform="translate(8.3,336.2) rotate(-90)" font-size="8.8" fill="#262626" text-anchor="middle" textLength="85.4" lengthAdjust="spacingAndGlyphs">Intervention scenario</text>
<path d="M598.4,210H617.1M598.4,208V212M617.1,208V212" stroke="#f28a76" stroke-width="1" fill="none"/>
<circle cx="607.6" cy="210" r="1.9" fill="#f2553b"/>
<text x="621.2" y="213.1" font-size="9.3" fill="#262626" textLength="63.6" lengthAdjust="spacingAndGlyphs">Substantial loss</text>
<path d="M598.4,224.9H617.1M598.4,222.9V226.9M617.1,222.9V226.9" stroke="#a6cff6" stroke-width="1" fill="none"/>
<circle cx="607.6" cy="224.9" r="1.9" fill="#1f82ea"/>
<text x="621.2" y="228" font-size="9.3" fill="#262626" textLength="63.6" lengthAdjust="spacingAndGlyphs">Substantial gain</text>
<text x="358.8" y="427.6" font-size="8.6" fill="#262626" text-anchor="middle">Median (±95% HDI)</text>
</svg>
</body></html>
